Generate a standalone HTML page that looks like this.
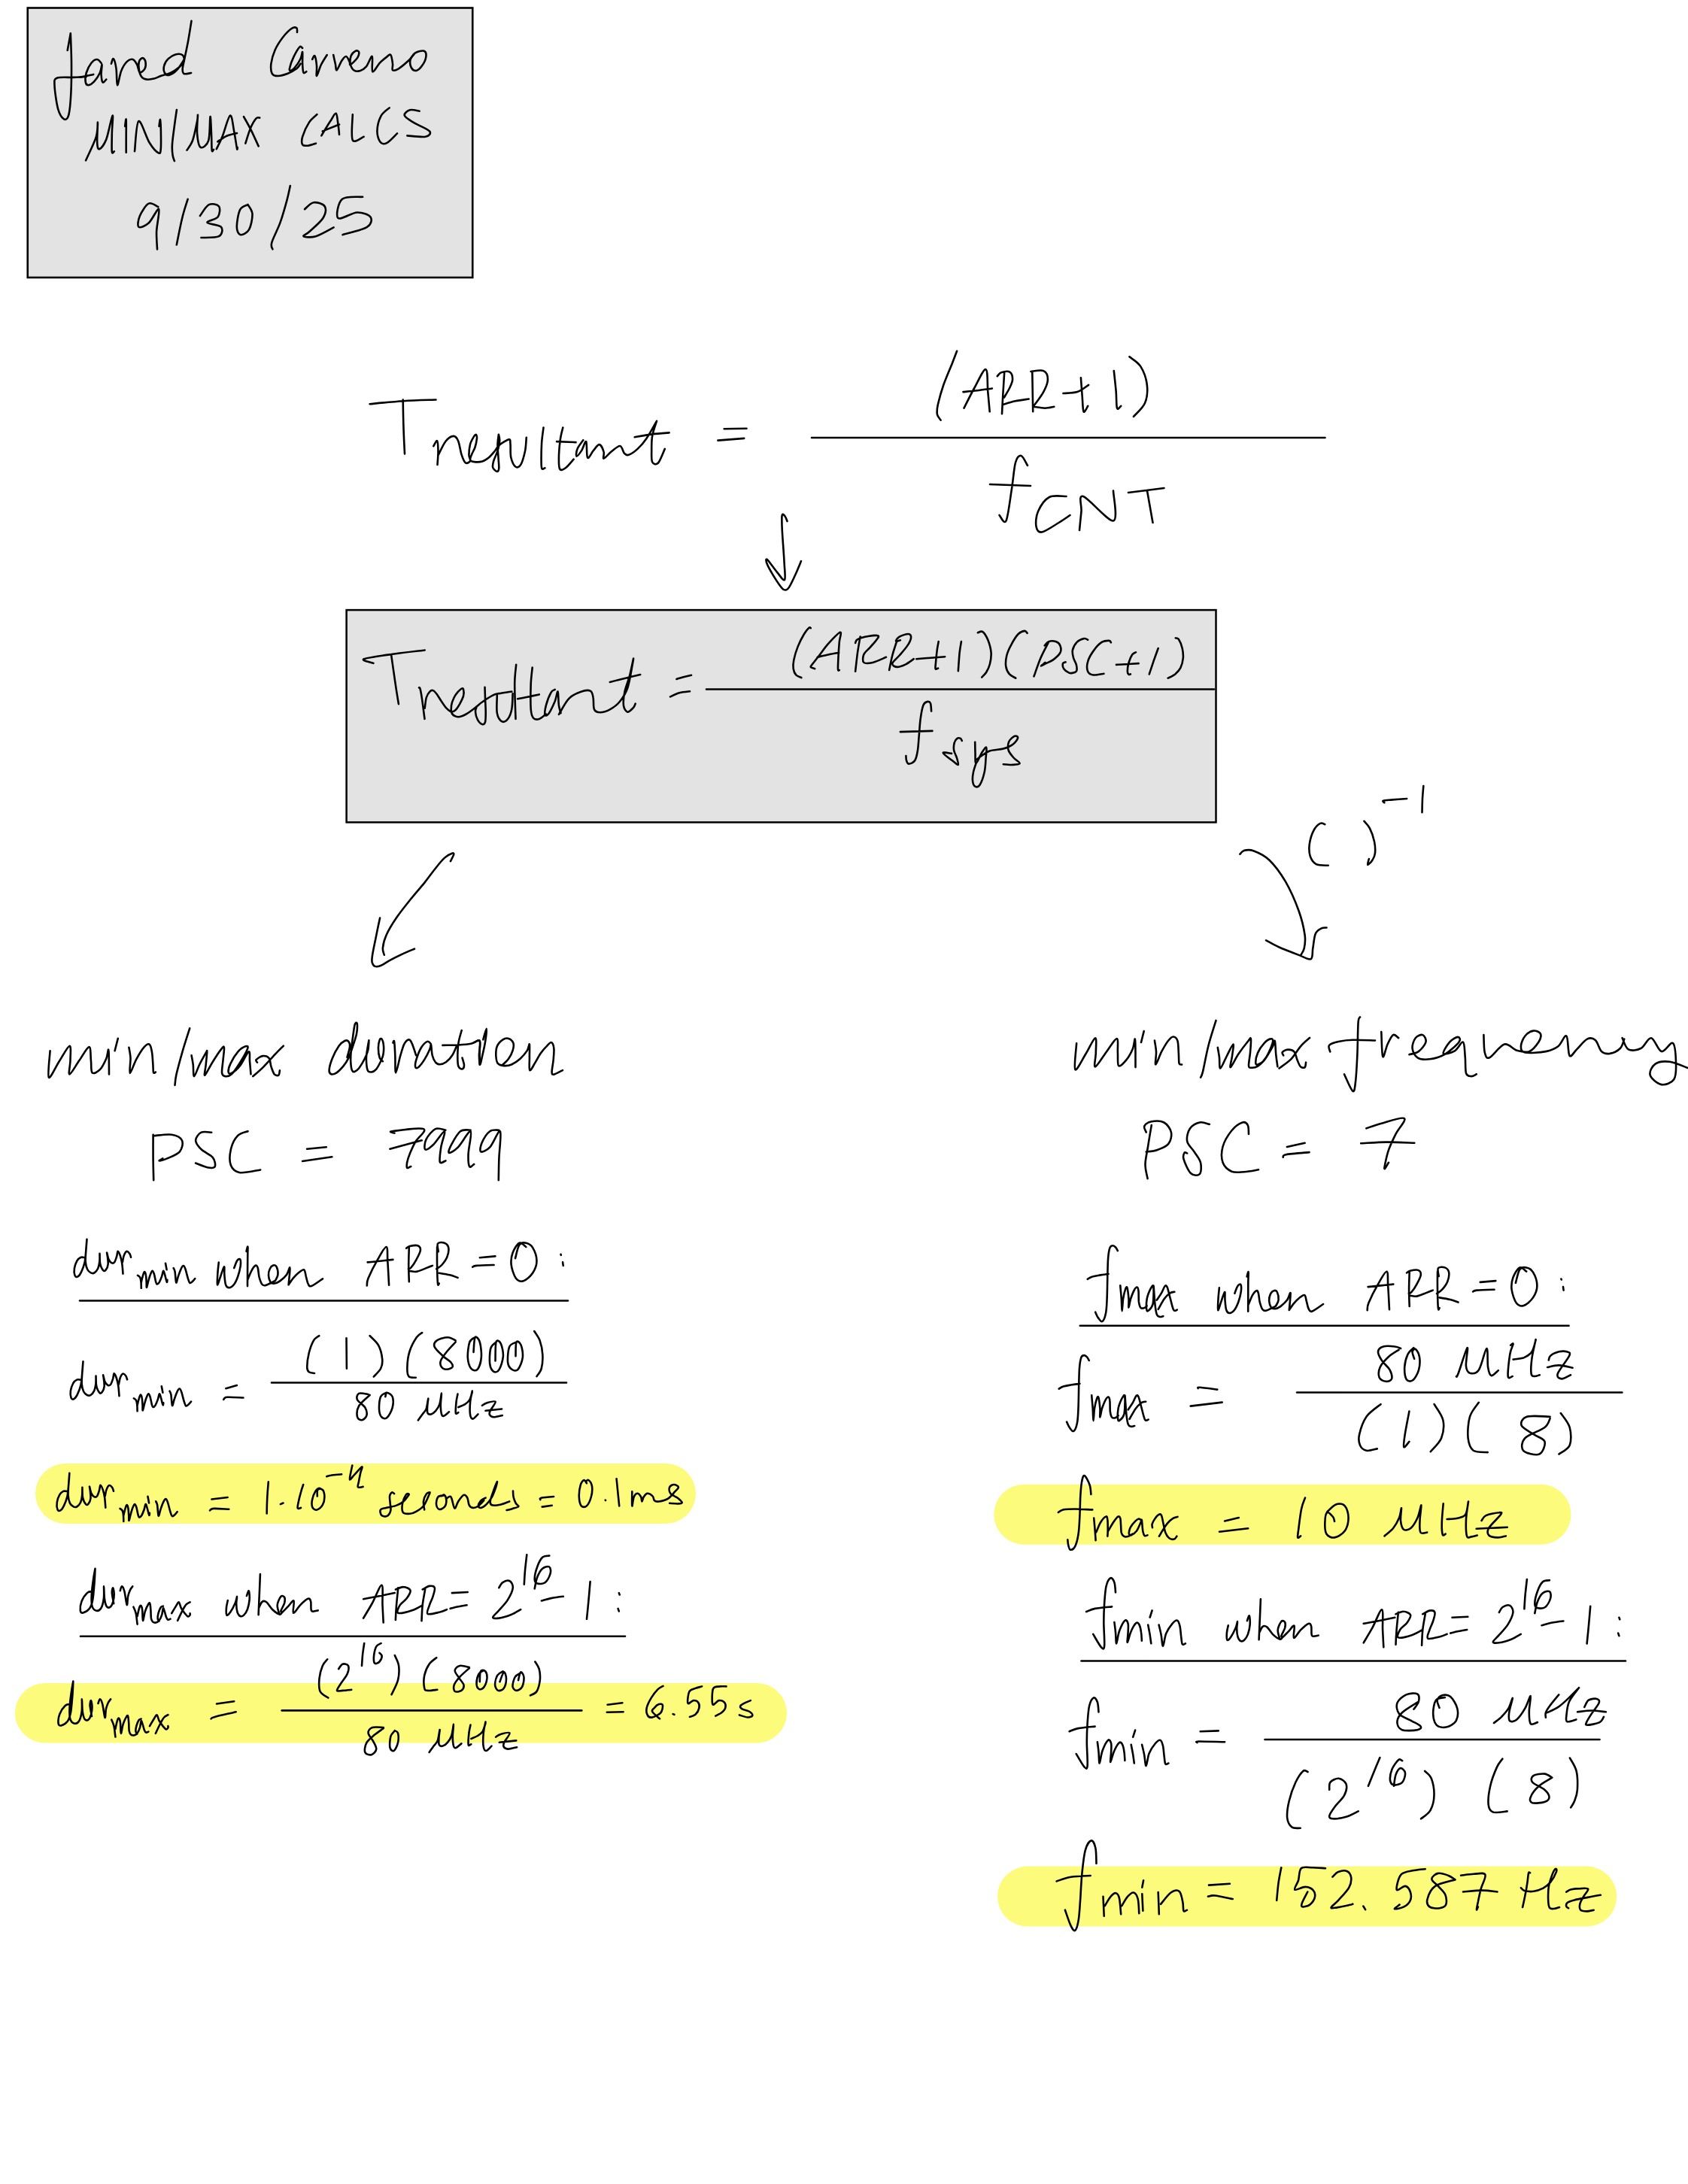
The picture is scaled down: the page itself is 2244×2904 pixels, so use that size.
<!DOCTYPE html>
<html><head><meta charset="utf-8"><title>Notes</title>
<style>
html,body{margin:0;padding:0;background:#fff;}
body{width:2244px;height:2904px;overflow:hidden;font-family:"Liberation Sans",sans-serif;}
svg{display:block;}
.ink path,.ink line,.ink polyline{fill:none;stroke:#000;stroke-width:2.6;stroke-linecap:round;stroke-linejoin:round;vector-effect:non-scaling-stroke;}
</style></head>
<body>
<svg width="2244" height="2904" viewBox="0 0 2244 2904">
<rect x="0" y="0" width="2244" height="2904" fill="#ffffff"/>
<!-- boxes -->
<rect x="36.75" y="10.5" width="591.5" height="358.5" fill="#e3e3e3" stroke="#000" stroke-width="2.6"/>
<rect x="460.6" y="811.1" width="1155.9" height="282.3" fill="#e3e3e3" stroke="#000" stroke-width="2.5"/>
<!-- highlights -->
<g fill="#fdfb7c">
<rect x="47" y="1946" width="878" height="80" rx="40" ry="40"/>
<rect x="20" y="2238" width="1026" height="79.5" rx="39.75" ry="39.75"/>
<rect x="1321.3" y="1973.7" width="767.2" height="80" rx="40" ry="40"/>
<rect x="1326" y="2481.6" width="823.2" height="80" rx="40" ry="40"/>
</g>
<g class="ink" id="lines">
<line x1="1079" y1="582" x2="1761.5" y2="582"/>
<line x1="939" y1="916.5" x2="1614" y2="916.5"/>
<line x1="106" y1="1729.5" x2="755" y2="1729.5"/>
<line x1="361" y1="1838.5" x2="753" y2="1838.5"/>
<line x1="107" y1="2175.8" x2="831" y2="2175.8"/>
<line x1="374.7" y1="2274.4" x2="773.3" y2="2274.4"/>
<line x1="1435.8" y1="1762.8" x2="2085.6" y2="1762.8"/>
<line x1="1724.1" y1="1851.5" x2="2156.4" y2="1851.5"/>
<line x1="1437.5" y1="2208.5" x2="2161" y2="2208.5"/>
<line x1="1681.5" y1="2313" x2="2126.5" y2="2313"/>
</g>
<g class="ink" id="hand">
<path d="M89.7,66.9L93.8,44.4 M93.8,44.4C94.0,50.8 94.9,69.4 95.0,82.6C95.1,95.7 95.0,111.5 94.4,123.2C93.8,135.0 92.8,147.1 91.3,152.9C89.7,158.8 87.4,159.6 85.0,158.3C82.7,157.0 79.3,152.5 77.2,145.1C75.1,137.7 72.8,120.7 72.5,113.8C72.3,107.0 71.5,105.7 75.6,103.8C79.8,102.0 91.0,103.2 97.5,102.9C104.1,102.6 111.9,102.1 114.7,102.0"/><!--jared-->
<path d="M106.2,102.7C107.8,102.4 112.7,101.5 115.7,100.8C118.7,100.2 122.8,99.2 124.2,98.9 M134.6,83.8C133.7,83.0 131.2,79.0 129.0,79.0C126.7,79.0 123.7,80.8 121.4,83.8C119.0,86.8 116.0,92.8 114.7,97.0C113.5,101.3 113.3,106.7 113.8,109.4C114.3,112.0 115.7,113.3 117.6,113.2C119.5,113.0 122.6,111.1 125.2,108.4C127.7,105.7 131.0,100.8 132.7,97.0C134.5,93.2 135.3,85.3 135.6,85.7C135.9,86.0 134.5,95.0 134.6,98.9C134.8,102.9 135.4,108.3 136.5,109.4C137.6,110.5 140.5,106.2 141.3,105.6 M147.9,84.7C148.4,83.6 149.7,77.0 150.8,78.1C151.9,79.2 153.7,85.5 154.5,91.4C155.4,97.2 154.9,112.7 156.0,113.2C157.1,113.6 159.1,99.4 161.2,94.2C163.3,89.0 166.2,84.4 168.8,81.9C171.3,79.3 174.1,78.4 176.4,79.0C178.6,79.7 180.5,82.8 182.0,85.7C183.6,88.5 184.1,95.1 185.8,96.1C187.6,97.0 191.2,93.7 192.5,91.4C193.7,89.0 193.9,84.2 193.4,81.9C192.9,79.5 191.0,77.1 189.6,77.1C188.2,77.1 185.7,79.2 184.9,81.9C184.1,84.6 184.2,89.8 184.9,93.2C185.5,96.7 186.9,100.7 188.7,102.7C190.4,104.8 192.6,105.3 195.3,105.6C198.0,105.9 201.6,105.4 204.8,104.6C207.9,103.8 210.6,102.1 214.3,100.8C217.9,99.6 222.6,98.9 226.6,97.0C230.5,95.1 235.0,92.0 238.0,89.5C241.0,86.9 243.8,84.6 244.6,81.9C245.4,79.2 244.6,74.9 242.7,73.3C240.8,71.8 236.4,71.6 233.2,72.4C230.1,73.2 226.3,75.6 223.7,78.1C221.2,80.6 218.8,84.4 218.1,87.6C217.3,90.7 217.9,95.0 219.0,97.0C220.1,99.1 222.0,100.5 224.7,99.9C227.4,99.2 231.6,96.9 235.1,93.2C238.6,89.6 243.8,80.6 245.5,78.1 M254.5,27.8C253.8,32.1 251.8,45.2 250.3,53.4C248.8,61.7 246.8,70.8 245.5,77.1C244.3,83.5 242.9,87.9 242.7,91.4C242.5,94.8 242.7,97.0 244.6,98.0C246.5,98.9 252.5,97.2 254.1,97.0"/><!--ared-->
<path d="M395.0,43.0C394.9,42.1 395.5,38.0 394.3,37.2C393.1,36.3 390.8,35.8 387.8,37.8C384.8,39.9 379.8,44.8 376.1,49.5C372.4,54.3 368.2,60.6 365.6,66.5C363.0,72.4 361.1,79.5 360.4,84.7C359.8,90.0 360.2,95.1 361.7,97.8C363.2,100.5 366.1,101.0 369.5,101.0C373.0,101.0 378.5,99.4 382.6,97.8C386.7,96.1 391.5,93.4 394.3,91.3C397.1,89.1 398.7,85.8 399.5,84.7 M402.1,63.9C401.5,63.7 400.2,60.6 398.2,62.6C396.3,64.5 392.6,71.1 390.4,75.6C388.2,80.2 385.9,86.9 385.2,90.0C384.4,93.0 384.8,93.9 385.8,93.9C386.9,93.9 389.4,92.6 391.7,90.0C394.0,87.3 397.8,81.7 399.5,78.2C401.3,74.7 401.7,68.0 402.1,69.1C402.6,70.2 401.9,80.2 402.1,84.7C402.3,89.3 402.6,94.7 403.4,96.5C404.3,98.2 406.7,95.4 407.3,95.2 M415.2,78.9C415.7,78.1 417.4,72.9 418.4,74.3C419.4,75.7 420.6,82.9 421.0,87.3C421.5,91.8 420.1,101.2 421.0,101.0C422.0,100.8 424.6,90.7 426.9,86.0C429.2,81.4 433.4,75.2 434.7,73.0 M443.2,73.0C443.6,75.0 445.0,81.4 445.8,84.7C446.6,88.1 446.3,93.9 447.7,93.2C449.2,92.6 452.2,83.9 454.3,80.8C456.3,77.8 458.4,74.7 460.1,75.0C461.9,75.2 463.7,80.3 464.7,82.1C465.7,84.0 464.3,86.9 466.0,86.0C467.7,85.2 473.3,79.7 475.1,76.9C477.0,74.1 477.5,70.6 477.1,69.1C476.6,67.6 474.2,66.9 472.5,67.8C470.8,68.7 467.7,71.3 466.6,74.3C465.6,77.4 465.2,82.8 466.0,86.0C466.8,89.3 469.0,92.6 471.2,93.9C473.4,95.2 476.4,94.7 479.0,93.9C481.6,93.0 484.2,91.8 486.8,88.6C489.5,85.5 493.3,73.9 494.7,75.0C496.1,76.0 493.6,93.8 495.3,95.2C497.1,96.6 501.9,86.7 505.1,83.4C508.2,80.2 511.8,77.4 514.2,75.6C516.6,73.9 518.1,71.5 519.4,73.0C520.7,74.5 521.6,81.4 522.0,84.7C522.5,88.1 520.7,92.1 522.0,93.2C523.3,94.3 526.2,93.5 529.9,91.3C533.5,89.0 540.5,83.0 544.2,79.5C547.9,76.0 548.7,72.4 552.0,70.4C555.3,68.4 561.3,66.9 563.7,67.8C566.1,68.7 566.8,72.4 566.3,75.6C565.9,78.9 563.3,84.3 561.1,87.3C559.0,90.4 555.7,93.4 553.3,93.9C550.9,94.3 548.1,92.3 546.8,90.0C545.5,87.6 544.8,82.6 545.5,79.5C546.1,76.5 549.8,73.0 550.7,71.7"/><!--carreno-->
<path d="M114.1,213.3C116.3,208.1 125.0,190.7 127.7,182.3C130.3,173.9 129.7,161.4 129.9,162.7C130.2,163.9 128.8,183.9 129.2,189.8C129.5,195.8 130.2,198.9 132.2,198.2C134.2,197.4 138.4,192.7 141.3,185.3C144.1,177.9 148.3,154.9 149.6,153.6C150.8,152.3 148.9,169.7 148.8,177.8C148.7,185.8 148.3,198.0 148.8,201.9C149.3,205.8 151.3,201.3 151.8,201.2 M166.2,167.9C166.4,166.4 167.4,156.0 167.7,158.9C167.9,161.8 167.7,178.0 167.7,185.3C167.7,192.6 167.7,199.8 167.7,202.7 M179.0,201.2C179.9,194.5 181.0,163.0 184.3,161.1C187.6,159.3 194.2,182.8 198.7,189.8C203.1,196.9 208.2,202.2 210.7,203.4C213.3,204.7 213.3,202.9 213.8,197.4C214.3,191.9 213.9,176.6 213.8,170.2C213.6,163.8 213.4,159.3 213.0,158.9C212.6,158.5 211.7,166.4 211.5,167.9 M234.9,146.0C234.4,149.6 232.9,159.4 231.9,167.2C230.9,175.0 229.2,186.3 228.9,192.9C228.5,199.4 229.1,202.9 229.6,206.5C230.1,210.0 231.5,212.8 231.9,214.0 M248.5,199.7C249.8,197.5 253.8,193.2 256.1,186.8C258.3,180.4 261.0,166.7 262.1,161.1C263.2,155.6 262.9,150.8 262.9,153.6C262.9,156.4 261.5,170.7 262.1,177.8C262.7,184.8 264.1,194.4 266.6,195.9C269.1,197.4 275.1,193.6 277.2,186.8C279.3,180.0 278.8,156.6 279.5,155.1C280.1,153.6 280.6,170.3 281.0,177.8C281.4,185.2 281.2,196.1 281.7,199.7C282.2,203.2 283.6,199.0 284.0,198.9 M287.8,198.2C289.0,195.5 292.3,189.7 295.3,182.3C298.4,174.9 303.3,154.9 305.9,153.6C308.5,152.3 309.7,167.4 311.2,174.7C312.7,182.0 314.2,193.9 315.0,197.4C315.7,200.9 315.6,196.1 315.7,195.9 M289.3,188.3C291.3,187.1 297.1,182.7 301.4,180.8C305.7,178.9 312.7,177.6 315.0,177.0 M324.0,155.1C325.5,157.9 329.8,165.2 333.1,171.7C336.4,178.3 341.9,190.6 343.7,194.4 M345.2,156.6C344.4,156.7 342.7,155.1 340.6,157.4C338.6,159.6 335.5,164.7 333.1,170.2C330.7,175.8 327.4,187.2 326.3,190.6"/><!--minmax_top-->
<path d="M421.4,152.2C419.7,153.9 414.2,157.6 411.0,162.6C407.8,167.5 403.6,176.9 402.1,181.8C400.7,186.8 400.9,190.2 402.1,192.2C403.4,194.2 406.6,193.9 409.5,193.7C412.5,193.4 418.2,191.2 419.9,190.7 M427.3,180.4C429.3,177.1 435.9,166.0 439.2,161.1C442.4,156.2 444.8,150.0 446.6,150.7C448.3,151.5 448.8,160.9 449.5,165.5C450.3,170.2 450.8,176.7 451.0,178.9 M428.8,174.4L451.0,165.5 M468.8,152.2C468.8,157.9 466.3,181.3 468.8,186.3C471.2,191.2 481.1,182.6 483.6,181.8 M517.7,143.3C515.8,145.2 509.1,149.1 506.4,154.3C503.7,159.5 501.5,168.6 501.4,174.4C501.3,180.3 503.6,186.7 505.8,189.2C508.0,191.8 511.0,191.8 514.7,189.8C518.4,187.9 525.8,179.5 528.0,177.4 M557.6,147.8C555.5,147.5 548.2,145.3 544.9,146.3C541.6,147.3 536.9,150.9 537.8,153.7C538.7,156.5 544.7,159.7 550.2,163.2C555.8,166.6 568.4,171.3 571.0,174.4C573.5,177.5 570.6,180.8 565.6,181.8C560.7,182.8 545.4,180.6 541.4,180.4 M210.2,275.1C208.1,274.4 201.8,268.7 197.7,270.7C193.7,272.7 188.1,281.8 185.9,287.0C183.7,292.2 182.4,300.2 184.4,301.8C186.4,303.4 193.3,300.4 197.7,296.5C202.2,292.5 209.4,276.2 211.1,278.1C212.8,280.0 208.5,298.8 208.1,307.7C207.8,316.6 208.9,327.5 209.0,331.4 M249.6,264.8C248.4,269.0 244.6,279.8 242.2,290.0C239.7,300.1 236.0,319.6 234.8,325.5 M265.9,287.0C267.9,284.5 273.5,274.3 277.7,272.2C281.9,270.1 289.1,271.8 291.1,274.5C293.0,277.3 292.2,284.9 289.6,288.5C287.0,292.0 274.6,293.7 275.4,295.9C276.1,298.1 291.4,298.7 294.0,301.8C296.6,304.9 295.5,311.9 291.1,314.2C286.6,316.6 271.3,315.7 267.4,316.0 M329.6,272.2C327.8,273.3 321.7,273.8 319.2,278.7C316.7,283.6 314.7,296.2 314.8,301.8C314.8,307.4 317.1,311.6 319.8,312.2C322.5,312.8 328.4,309.9 331.0,305.4C333.7,300.8 335.7,290.2 335.5,284.6C335.2,279.1 330.5,274.3 329.6,272.2 M385.8,247.0C385.1,250.2 383.6,258.1 381.4,266.3C379.2,274.4 375.9,286.5 372.5,295.9C369.2,305.3 362.9,316.6 361.3,322.5C359.6,328.5 362.2,329.9 362.4,331.4 M405.1,278.1C407.1,276.6 412.5,269.8 416.9,269.2C421.4,268.6 429.7,271.1 431.8,274.5C433.8,278.0 432.7,284.4 429.4,290.0C426.0,295.5 415.9,303.7 411.6,307.7C407.3,311.8 402.2,313.2 403.6,314.2C405.0,315.3 413.2,316.2 419.9,314.2C426.6,312.3 439.7,304.4 443.6,302.4 M482.1,261.8C477.6,262.3 460.3,260.1 454.9,264.8C449.4,269.5 446.2,287.0 449.5,290.0C452.8,292.9 467.5,282.8 474.7,282.5C481.9,282.3 490.3,285.3 492.5,288.5C494.7,291.7 494.2,297.9 488.0,301.8C481.9,305.8 460.9,310.4 455.5,312.2"/><!--minmax-->
<path d="M1272.1,466.8C1271.0,469.7 1268.5,476.2 1265.6,483.7C1262.6,491.2 1257.5,502.7 1254.3,511.8C1251.2,520.8 1248.3,531.4 1246.8,538.0C1245.4,544.5 1245.3,547.7 1245.9,551.1C1246.5,554.5 1249.8,557.3 1250.6,558.6 M1281.5,542.7C1283.8,538.1 1290.7,524.1 1295.5,515.5C1300.4,506.9 1307.5,490.2 1310.5,491.2C1313.5,492.1 1312.4,511.8 1313.3,521.1C1314.2,530.5 1315.3,543.0 1315.7,547.3 M1280.5,521.1C1283.7,520.8 1292.9,520.0 1299.3,519.3C1305.7,518.5 1315.6,516.9 1318.9,516.5 M1325.8,500.2C1326.7,499.4 1328.3,496.2 1331.1,495.3C1333.8,494.4 1339.8,493.1 1342.3,494.6C1344.8,496.1 1346.1,500.8 1346.1,504.3C1346.1,507.8 1344.2,511.5 1342.3,515.5C1340.4,519.6 1336.1,526.4 1334.8,528.6 M1335.2,494.9C1334.9,499.9 1333.9,515.7 1333.3,524.9C1332.8,534.1 1332.2,545.9 1332.0,550.1 M1333.0,538.0C1335.8,537.2 1344.0,534.6 1349.8,533.3C1355.6,532.1 1364.6,531.0 1367.6,530.5 M1370.4,494.0C1373.2,493.8 1383.5,491.3 1387.2,493.1C1391.0,494.8 1392.9,499.6 1392.9,504.3C1392.9,509.0 1390.4,515.2 1387.2,521.1C1384.1,527.1 1376.3,536.7 1374.1,539.9 M1372.3,494.9L1373.2,547.3 M1374.1,540.8C1376.6,541.1 1384.6,542.7 1389.1,542.7C1393.6,542.7 1399.3,541.1 1401.3,540.8 M1413.5,523.0C1416.6,522.7 1426.6,523.0 1432.2,521.1C1437.8,519.3 1444.7,513.3 1447.1,511.8 M1436.9,502.4C1437.2,506.5 1438.1,519.3 1438.7,526.8C1439.3,534.2 1439.3,545.2 1440.6,547.3C1441.8,549.5 1445.3,541.1 1446.2,539.9 M1480.8,493.1C1481.3,497.7 1483.0,512.9 1483.7,521.1C1484.3,529.4 1483.9,539.5 1485.0,542.7C1486.1,545.8 1489.3,540.3 1490.2,539.9 M1501.4,474.3C1503.9,476.5 1512.5,481.2 1516.4,487.4C1520.3,493.7 1523.9,503.7 1524.8,511.8C1525.8,519.9 1525.0,529.1 1522.0,536.1C1519.1,543.1 1509.5,550.9 1507.0,553.9"/><!--arr1-->
<path d="M1366.0,619.0C1364.6,616.8 1360.2,606.7 1357.5,606.0C1354.8,605.3 1352.1,607.7 1350.0,615.0C1347.9,622.3 1347.1,637.1 1345.0,650.0C1342.9,662.9 1340.2,686.7 1337.5,692.5C1334.8,698.3 1330.0,686.2 1328.5,685.0 M1316.0,644.0L1370.0,646.0 M1417.5,660.0C1413.8,660.2 1401.2,657.7 1395.0,661.0C1388.8,664.3 1382.9,673.5 1380.0,680.0C1377.1,686.5 1376.7,695.4 1377.5,700.0C1378.3,704.6 1380.0,708.3 1385.0,707.5C1390.0,706.7 1401.2,698.8 1407.5,695.0C1413.8,691.2 1420.0,686.7 1422.5,685.0 M1435.0,705.0C1435.4,700.8 1436.7,687.5 1437.5,680.0C1438.3,672.5 1432.9,657.9 1440.0,660.0C1447.1,662.1 1473.3,693.8 1480.0,692.5C1486.7,691.2 1480.0,659.2 1480.0,652.5 M1500.0,655.0L1547.5,649.0 M1525.0,652.5L1532.5,695.0"/><!--fcnt-->
<path d="M491.6,537.2C499.0,536.5 521.7,534.1 536.4,533.2C551.0,532.2 572.3,531.8 579.5,531.5 M535.7,531.5C535.8,537.3 536.0,554.4 536.4,566.4C536.7,578.3 537.7,597.3 538.0,603.5 M962.7,570.3L992.5,569.7 M954.4,585.6L989.2,582.9"/><!--tres_T-->
<path d="M576.3,593.2C577.1,592.0 580.1,585.1 581.1,586.2C582.2,587.2 582.4,594.2 582.5,599.5C582.6,604.8 581.7,614.9 581.5,618.0 M582.9,604.7C584.5,601.8 589.0,591.1 592.3,587.0C595.6,582.8 600.0,580.0 602.8,579.9C605.6,579.8 607.3,582.0 609.1,586.2C610.9,590.3 612.0,599.9 613.6,604.7C615.2,609.6 617.0,614.2 618.9,615.5C620.8,616.8 624.4,614.5 625.1,612.8C625.9,611.0 623.4,608.5 623.4,604.7C623.4,601.0 624.0,594.6 625.1,590.5C626.3,586.3 629.1,582.0 630.4,579.9C631.7,577.9 632.6,577.6 633.1,578.2C633.7,578.7 634.2,580.6 633.9,583.4C633.6,586.2 632.6,591.4 631.4,595.0C630.2,598.5 627.9,601.9 626.9,604.7C625.8,607.5 624.5,610.2 625.1,611.8C625.7,613.3 627.7,613.8 630.4,614.1C633.1,614.4 637.9,614.5 641.2,613.5C644.4,612.6 647.2,610.6 650.0,608.3C652.8,605.9 655.8,602.1 658.0,599.5C660.2,596.8 660.2,594.7 663.3,592.2C666.4,589.7 674.0,584.7 676.5,584.4C679.1,584.1 678.0,586.5 678.5,590.5C679.0,594.4 678.1,603.2 679.3,608.3C680.5,613.3 683.3,619.3 685.5,620.8C687.8,622.3 690.5,620.8 692.6,617.3C694.7,613.7 696.8,605.4 698.1,599.5C699.3,593.5 699.5,584.6 699.8,581.7 M662.9,577.8C663.1,579.2 664.5,582.6 664.2,586.2C664.0,589.8 662.8,595.0 661.5,599.5C660.2,603.9 657.3,609.1 656.2,612.8C655.2,616.4 654.5,619.2 655.2,621.6C656.0,623.9 659.4,626.9 660.7,627.0C662.0,627.2 663.0,625.7 663.3,622.5C663.5,619.4 662.8,613.6 662.5,608.3C662.2,602.9 661.4,595.6 661.5,590.5C661.6,585.4 662.6,579.9 662.9,577.8 M722.5,568.6C722.1,572.0 720.6,581.4 720.1,589.1C719.7,596.8 719.5,608.8 719.6,614.5C719.6,620.2 719.7,622.0 720.5,623.3C721.4,624.6 723.8,622.5 724.4,622.3 M748.3,568.6C747.7,571.0 745.9,577.2 745.0,583.2C744.1,589.3 743.2,598.1 743.0,604.7C742.9,611.4 742.5,620.4 744.0,623.3C745.5,626.2 748.7,624.5 751.8,622.3C754.9,620.2 760.8,612.6 762.6,610.6 M740.1,587.1L765.5,588.1 M775.3,585.2C774.0,587.1 768.9,593.3 767.5,596.9C766.0,600.5 765.5,606.4 766.5,606.7C767.5,607.0 771.2,602.1 773.3,598.9C775.4,595.6 777.9,585.5 779.2,587.1C780.5,588.8 779.5,606.7 781.1,608.7C782.8,610.6 786.4,601.8 789.0,598.9C791.6,595.9 794.5,590.7 796.8,591.1C799.1,591.4 801.7,597.7 802.6,600.8C803.6,603.9 801.0,609.6 802.6,609.6C804.3,609.6 808.8,603.6 812.4,600.8C816.0,598.1 821.2,592.7 824.2,593.0C827.1,593.3 828.1,600.8 830.0,602.8C832.0,604.7 833.0,605.7 835.9,604.7C838.8,603.8 843.7,600.5 847.6,596.9C851.5,593.3 855.1,589.4 859.3,583.2C863.6,577.0 870.7,563.7 873.0,559.8 M873.0,559.8C872.1,563.0 868.3,572.8 867.2,579.3C866.0,585.8 866.2,593.0 866.2,598.9C866.2,604.7 865.7,611.7 867.2,614.5C868.6,617.3 872.2,618.4 875.0,615.5C877.8,612.6 882.3,600.0 883.8,596.9 M843.7,581.3C847.6,580.6 859.5,578.3 867.2,577.4C874.8,576.4 885.9,575.7 889.6,575.4"/><!--tres_word-->
<path d="M496.5,881.8C494.4,880.8 479.0,878.3 483.9,876.2C488.8,874.1 512.2,871.2 525.7,869.2C539.1,867.3 558.2,865.3 564.7,864.5 M520.1,870.6C521.0,877.1 524.1,898.7 525.7,909.6C527.3,920.5 529.2,931.7 529.9,936.1"/><!--box2_T-->
<path d="M557.0,914.4C557.3,914.6 557.8,913.2 558.5,915.6C559.1,918.0 559.9,921.9 560.9,928.6C561.9,935.4 563.9,951.5 564.5,956.0 M564.7,941.7C565.1,939.3 565.7,931.2 566.8,927.5C568.0,923.7 570.1,920.8 571.6,919.3C573.1,917.7 574.3,917.5 575.8,918.1C577.3,918.7 578.6,920.3 580.5,922.8C582.4,925.2 584.8,929.7 587.0,932.8C589.2,936.0 591.4,939.4 593.5,941.7C595.7,944.0 598.1,946.1 600.0,946.5C602.0,946.9 603.5,945.9 605.4,944.2C607.3,942.4 609.5,939.0 611.3,935.8C613.0,932.6 615.3,928.3 616.1,925.1C616.9,922.0 616.5,918.5 616.1,916.9C615.7,915.3 615.0,915.0 613.7,915.6C612.4,916.2 610.1,918.5 608.4,920.4C606.7,922.4 605.0,924.5 603.6,927.5C602.2,930.4 600.5,934.7 600.0,938.2C599.5,941.6 599.7,945.8 600.6,948.2C601.5,950.6 603.6,951.6 605.4,952.4C607.2,953.2 609.0,953.4 611.3,953.0C613.5,952.6 616.5,951.3 618.9,950.0C621.4,948.7 623.6,947.1 626.1,945.3C628.6,943.5 631.3,941.3 633.8,939.3C636.3,937.4 637.4,935.9 641.0,933.5C644.5,931.0 651.3,926.5 655.0,924.6C658.8,922.7 659.2,923.0 663.4,922.1C667.6,921.3 677.5,920.0 680.3,919.5 M633.8,939.3C633.5,940.5 631.8,943.5 632.0,946.5C632.2,949.5 633.5,954.4 635.0,957.2C636.5,959.9 639.3,962.6 641.0,963.1C642.6,963.5 644.2,962.8 645.0,960.1C645.8,957.3 645.7,951.7 645.7,946.5C645.7,941.3 645.2,934.1 645.0,928.6C644.8,923.2 644.6,916.4 644.5,913.9 M660.8,924.7C660.8,928.6 659.7,942.4 660.8,948.2C661.9,954.0 664.9,958.0 667.3,959.3C669.7,960.6 672.9,958.7 675.1,956.0C677.3,953.3 679.2,948.6 680.3,943.0C681.4,937.3 681.4,925.6 681.6,922.1 M686.2,883.7C685.9,887.9 684.3,897.0 684.2,909.1C684.1,921.2 685.3,948.2 685.5,956.0 M707.7,887.6C707.4,891.2 706.1,899.9 705.7,909.1C705.4,918.3 705.2,935.4 705.7,943.0C706.3,950.6 707.2,952.5 709.0,954.7C710.8,956.9 714.0,956.9 716.8,956.0C719.6,955.1 724.4,950.6 725.9,949.5 M688.1,929.3C690.3,928.9 696.4,927.7 701.2,926.7C706.0,925.7 714.2,924.0 716.8,923.4 M737.7,916.9C736.8,917.6 734.4,917.4 732.5,920.8C730.5,924.3 727.2,932.8 725.9,937.8C724.6,942.8 724.0,949.1 724.6,950.8C725.3,952.5 727.7,951.2 729.9,948.2C732.0,945.2 735.7,937.3 737.7,932.6C739.6,927.8 740.7,918.7 741.6,919.5C742.4,920.4 742.2,933.0 742.9,937.8C743.5,942.5 745.1,946.5 745.5,948.2"/><!--box2_res1-->
<path d="M743.0,949.9C745.2,946.5 751.3,934.1 756.1,929.1C760.8,924.1 766.9,921.7 771.7,920.0C776.5,918.2 781.9,917.3 784.7,918.6C787.6,920.0 787.8,923.6 788.6,927.8C789.5,931.9 788.4,940.2 790.0,943.4C791.5,946.7 794.3,947.3 797.8,947.3C801.2,947.3 806.5,945.8 810.8,943.4C815.1,941.0 819.9,937.8 823.8,933.0C827.7,928.2 831.4,923.0 834.3,914.7C837.1,906.5 839.5,890.0 840.8,883.5C842.1,876.9 841.9,876.9 842.1,875.6 M842.1,875.6C841.2,879.5 838.8,891.7 836.9,899.1C834.9,906.5 831.7,913.4 830.4,920.0C829.0,926.5 828.4,933.7 829.0,938.2C829.7,942.6 832.1,946.2 834.3,946.7C836.4,947.1 840.3,942.6 842.1,940.8C843.8,939.0 844.3,936.5 844.7,935.6 M810.8,906.9C814.3,906.0 824.9,903.3 831.7,901.7C838.4,900.1 847.9,897.9 851.2,897.1 M899.4,903.0C900.1,902.8 900.1,902.6 903.3,901.7C906.6,900.8 916.4,898.4 919.0,897.8 M891.0,926.5C893.0,925.6 899.0,922.4 903.3,921.3C907.7,920.1 914.7,919.6 917.0,919.3"/><!--box2_res2-->
<path d="M1046.5,693.1C1046.1,692.1 1045.0,688.6 1044.0,687.1C1043.0,685.5 1041.2,683.7 1040.5,683.9C1039.7,684.0 1039.5,684.2 1039.4,687.8C1039.3,691.4 1039.2,695.5 1039.8,705.5C1040.3,715.6 1042.1,737.3 1042.6,748.2C1043.1,759.1 1044.6,768.9 1043.0,770.9C1041.3,773.0 1036.5,764.8 1032.7,760.3C1028.8,755.8 1022.0,745.6 1019.9,743.9C1017.7,742.3 1018.2,746.3 1019.9,750.3C1021.5,754.4 1026.5,762.8 1029.8,768.1C1033.1,773.4 1037.3,779.6 1039.8,782.3C1042.2,785.0 1043.2,784.7 1044.7,784.5C1046.3,784.2 1046.9,784.3 1049.0,780.9C1051.1,777.5 1054.9,769.6 1057.5,763.8C1060.2,758.0 1063.8,749.0 1065.0,746.1"/><!--darrow-->
<path d="M1077.8,835.3C1077.4,835.2 1077.0,833.5 1075.5,834.7C1074.0,836.0 1071.4,838.9 1069.0,843.0C1066.5,847.2 1062.9,853.9 1060.7,859.6C1058.4,865.3 1056.3,872.5 1055.3,877.4C1054.3,882.3 1054.2,885.9 1054.7,889.2C1055.2,892.6 1056.5,895.6 1058.3,897.5C1060.1,899.5 1064.2,900.5 1065.4,901.1 M1083.2,889.2C1082.3,888.8 1078.2,888.1 1077.8,886.9C1077.4,885.7 1078.9,884.7 1080.8,882.1C1082.7,879.6 1085.7,875.8 1089.1,871.5C1092.5,867.1 1096.3,861.2 1100.9,856.1C1105.6,850.9 1114.5,841.1 1116.9,840.7C1119.4,840.3 1116.2,848.6 1115.8,853.7C1115.4,858.8 1114.9,865.4 1114.6,871.5C1114.3,877.5 1113.8,886.6 1114.0,889.8C1114.2,893.1 1115.5,890.8 1115.8,891.0 M1086.7,873.8C1089.3,873.2 1097.4,871.3 1102.1,870.3C1106.9,869.3 1113.0,868.3 1115.2,867.9 M1143.6,846.6C1143.0,850.1 1141.1,860.2 1140.0,867.9C1139.0,875.6 1137.6,888.6 1137.1,892.8 M1137.1,854.9C1137.6,854.1 1137.2,851.6 1140.0,850.1C1142.9,848.7 1149.7,846.8 1154.3,846.0C1158.8,845.2 1165.5,844.5 1167.3,845.4C1169.1,846.3 1166.7,848.8 1164.9,851.3C1163.2,853.9 1159.4,857.6 1156.6,860.8C1153.9,864.0 1149.7,866.9 1148.3,870.3C1147.0,873.6 1146.4,879.2 1148.3,880.9C1150.3,882.7 1155.3,882.1 1160.2,880.9C1165.1,879.8 1175.0,875.0 1178.0,873.8 M1196.9,851.3C1195.9,851.5 1191.2,853.3 1191.0,852.5C1190.8,851.7 1193.0,848.2 1195.7,846.6C1198.5,845.0 1205.0,842.8 1207.6,843.0C1210.2,843.2 1211.3,845.2 1211.1,847.8C1210.9,850.3 1209.0,854.5 1206.4,858.4C1203.8,862.4 1199.1,867.5 1195.7,871.5C1192.4,875.4 1186.8,879.6 1186.3,882.1C1185.7,884.7 1189.2,886.7 1192.2,886.9C1195.1,887.1 1200.3,885.1 1204.0,883.3C1207.8,881.5 1212.9,877.4 1214.7,876.2 M1192.2,852.5C1191.2,855.7 1187.9,865.1 1186.3,871.5C1184.6,877.9 1182.8,887.8 1182.1,891.0 M1218.2,876.2C1220.8,876.0 1227.3,875.5 1233.6,875.0C1240.0,874.5 1252.4,873.5 1256.2,873.2"/><!--box2_n1-->
<path d="M1247.7,853.1C1247.4,854.8 1246.5,858.7 1245.9,863.2C1245.3,867.6 1244.5,875.4 1244.1,879.8C1243.8,884.1 1243.1,887.8 1243.6,889.2C1244.0,890.7 1246.5,888.7 1247.1,888.6 M1277.9,853.1C1277.5,855.8 1276.2,862.6 1275.5,869.1C1274.9,875.6 1274.1,888.4 1273.8,892.2 M1299.8,841.3C1300.9,841.1 1304.1,838.4 1306.4,840.1C1308.6,841.7 1311.6,846.7 1313.5,851.3C1315.3,856.0 1317.2,862.6 1317.6,867.9C1318.0,873.2 1316.9,879.0 1315.8,883.3C1314.7,887.7 1312.9,891.1 1311.1,894.0C1309.3,896.8 1306.2,899.4 1305.2,900.5 M1365.6,841.8C1365.0,841.4 1364.0,838.7 1362.0,838.9C1360.1,839.1 1356.7,840.0 1353.7,843.0C1350.8,846.1 1346.8,852.5 1344.3,857.3C1341.7,862.0 1339.5,866.7 1338.3,871.5C1337.2,876.2 1336.6,881.5 1337.2,885.7C1337.7,889.8 1339.7,893.7 1341.9,896.4C1344.1,899.0 1348.8,900.8 1350.2,901.7 M1394.0,853.7C1392.3,857.3 1386.6,867.4 1383.4,875.0C1380.1,882.6 1376.0,895.3 1374.5,899.3 M1388.7,858.4C1389.6,857.5 1391.6,854.0 1394.0,853.1C1396.5,852.2 1400.9,852.2 1403.5,853.1C1406.1,854.0 1408.4,856.0 1409.4,858.4C1410.4,860.9 1411.0,864.8 1409.4,867.9C1407.9,871.1 1403.1,875.0 1400.0,877.4C1396.8,879.8 1393.1,880.8 1390.5,882.1C1387.8,883.5 1384.2,885.9 1384.0,885.7C1383.8,885.5 1388.4,881.7 1389.3,880.9"/><!--box2_n2-->
<path d="M1446.1,850.7C1445.3,850.4 1443.7,848.5 1441.3,849.0C1439.0,849.5 1434.4,851.1 1431.8,853.7C1429.3,856.3 1426.7,860.8 1425.9,864.4C1425.1,867.9 1426.3,871.9 1427.1,875.0C1427.9,878.2 1430.0,880.6 1430.7,883.3C1431.4,886.1 1431.8,889.7 1431.3,891.6C1430.7,893.5 1428.8,894.1 1427.1,894.6C1425.4,895.1 1423.3,895.5 1421.2,894.6C1419.0,893.7 1415.6,891.3 1414.2,889.2C1412.8,887.2 1412.6,883.6 1413.0,882.1C1413.4,880.7 1416.0,880.7 1416.6,880.4 M1476.9,854.3C1476.5,853.9 1476.5,852.0 1474.5,851.9C1472.5,851.8 1468.4,851.6 1465.0,853.7C1461.7,855.8 1457.5,860.0 1454.4,864.4C1451.2,868.7 1447.4,875.0 1446.1,879.8C1444.7,884.5 1444.9,889.8 1446.1,892.8C1447.3,895.8 1449.6,897.0 1453.2,897.5C1456.7,898.0 1465.0,896.1 1467.4,895.8 M1484.0,883.9C1486.0,883.8 1490.9,883.6 1495.8,883.3C1500.8,883.0 1510.6,882.3 1513.6,882.1 M1510.0,867.3C1509.3,867.8 1506.9,868.0 1505.3,870.3C1503.7,872.6 1501.7,877.2 1500.6,880.9C1499.5,884.7 1498.8,890.1 1498.8,892.8C1498.8,895.5 1499.9,896.4 1500.6,896.9C1501.3,897.5 1502.5,896.4 1502.9,896.4 M1539.7,862.0C1538.7,864.8 1535.7,872.9 1533.7,878.6C1531.8,884.3 1528.8,893.4 1527.8,896.4 M1562.8,848.4C1563.5,848.7 1565.4,847.9 1566.9,850.1C1568.4,852.4 1570.7,857.8 1571.7,862.0C1572.6,866.1 1573.2,870.7 1572.8,875.0C1572.4,879.4 1571.1,884.5 1569.3,888.1C1567.5,891.6 1564.9,894.1 1562.2,896.4C1559.4,898.6 1554.3,900.8 1552.7,901.7"/><!--box2_n3-->
<path d="M1238.1,945.6C1237.9,943.9 1237.8,937.1 1236.9,935.0C1235.9,932.9 1234.1,932.7 1232.5,933.1C1230.9,933.5 1229.0,933.9 1227.5,937.5C1226.0,941.1 1224.7,948.5 1223.8,955.0C1222.8,961.5 1222.5,969.2 1221.9,976.2C1221.2,983.3 1220.9,991.7 1220.0,997.5C1219.1,1003.3 1218.2,1008.2 1216.2,1011.2C1214.3,1014.3 1210.0,1015.6 1208.1,1015.6C1206.2,1015.6 1205.6,1013.0 1205.0,1011.2C1204.4,1009.5 1204.5,1006.0 1204.4,1005.0 M1196.9,973.1L1239.4,971.9 M1278.8,985.0C1278.4,984.5 1277.9,982.4 1276.9,981.9C1275.8,981.4 1273.9,980.9 1272.5,981.9C1271.1,982.8 1269.5,984.9 1268.8,987.5C1268.0,990.1 1267.6,994.2 1268.1,997.5C1268.6,1000.8 1270.9,1004.3 1271.9,1007.5C1272.8,1010.7 1274.5,1016.0 1273.8,1016.9C1273.0,1017.7 1270.8,1015.1 1267.5,1012.5C1264.2,1009.9 1254.2,1003.0 1253.8,1001.2C1253.3,999.5 1263.1,1001.8 1265.0,1001.9 M1296.2,986.9C1296.3,989.3 1296.3,996.6 1296.5,1001.2C1296.7,1005.9 1296.1,1015.0 1297.5,1015.0C1298.9,1015.0 1302.7,1004.8 1305.0,1001.2C1307.3,997.7 1310.3,992.7 1311.2,993.8C1312.2,994.8 1311.0,1002.1 1310.6,1007.5C1310.2,1012.9 1310.1,1020.2 1308.8,1026.2C1307.4,1032.3 1304.6,1040.5 1302.5,1043.8C1300.4,1047.0 1297.8,1046.5 1296.2,1045.6C1294.7,1044.8 1293.5,1041.8 1293.1,1038.8C1292.7,1035.7 1293.0,1031.5 1293.8,1027.5C1294.5,1023.5 1296.9,1017.1 1297.5,1015.0 M1298.1,1010.0C1300.9,1008.1 1309.1,1001.1 1315.0,998.8C1320.9,996.4 1328.5,997.1 1333.8,995.6C1339.0,994.2 1343.0,992.4 1346.2,990.0C1349.5,987.6 1352.7,983.1 1353.1,981.2C1353.5,979.4 1350.7,977.9 1348.8,978.8C1346.8,979.6 1342.6,983.1 1341.2,986.2C1339.9,989.4 1339.6,994.0 1340.6,997.5C1341.7,1001.0 1345.0,1004.6 1347.5,1007.5C1350.0,1010.4 1355.8,1013.4 1355.6,1015.0C1355.4,1016.6 1349.9,1016.7 1346.2,1016.9C1342.6,1017.1 1335.8,1016.4 1333.8,1016.2"/><!--fsys-->
<path d="M598.9,1145.1C599.6,1143.6 602.9,1137.9 603.2,1136.1C603.5,1134.4 602.8,1134.0 600.8,1134.7C598.8,1135.4 594.8,1137.3 591.3,1140.4C587.9,1143.5 584.4,1147.7 580.0,1153.2C575.5,1158.6 570.5,1166.0 564.8,1173.1C559.1,1180.2 552.1,1187.9 545.8,1195.8C539.5,1203.7 532.2,1212.6 526.9,1220.5C521.5,1228.4 516.6,1236.6 513.6,1243.2C510.6,1249.9 509.3,1255.9 508.9,1260.3C508.4,1264.7 510.4,1268.2 510.8,1269.8 M505.1,1220.5C504.1,1225.1 501.0,1239.7 499.4,1248.0C497.7,1256.2 495.9,1264.5 495.1,1269.8C494.3,1275.0 494.1,1276.7 494.6,1279.2C495.2,1281.8 496.5,1284.1 498.4,1284.9C500.3,1285.7 502.5,1285.4 506.0,1284.0C509.5,1282.6 514.2,1279.1 519.3,1276.4C524.3,1273.7 531.1,1270.3 536.4,1267.9C541.6,1265.4 548.6,1262.7 551.0,1261.7"/><!--larrow-->
<path d="M1648.4,1135.7C1649.3,1134.9 1650.8,1131.7 1653.8,1130.9C1656.7,1130.2 1660.6,1129.2 1666.2,1131.3C1671.8,1133.4 1680.4,1136.9 1687.5,1143.7C1694.6,1150.5 1702.3,1160.9 1708.9,1172.2C1715.4,1183.4 1722.3,1199.4 1726.6,1211.3C1730.9,1223.1 1733.4,1235.0 1734.6,1243.3C1735.8,1251.6 1734.7,1256.4 1733.7,1261.0C1732.8,1265.6 1729.6,1269.2 1728.8,1270.8 M1683.1,1250.4C1685.9,1251.8 1692.7,1256.0 1700.0,1259.3C1707.2,1262.5 1719.5,1267.2 1726.6,1269.9C1733.7,1272.6 1739.5,1276.7 1742.6,1275.2C1745.7,1273.8 1744.3,1266.7 1745.3,1261.0C1746.3,1255.4 1746.9,1245.9 1748.8,1241.5C1750.8,1237.0 1754.4,1235.7 1756.8,1234.4C1759.3,1233.0 1762.5,1233.6 1763.6,1233.5 M1761.3,1096.1C1760.2,1095.9 1757.6,1093.4 1755.1,1094.9C1752.5,1096.3 1748.5,1100.0 1746.2,1104.6C1743.8,1109.2 1741.6,1116.8 1740.8,1122.4C1740.1,1128.0 1740.3,1134.0 1741.7,1138.4C1743.2,1142.8 1745.7,1147.0 1749.7,1149.1C1753.7,1151.1 1763.1,1150.5 1765.7,1150.8 M1813.4,1091.8C1814.6,1093.4 1818.5,1096.6 1820.8,1101.1C1823.1,1105.6 1825.9,1113.2 1827.0,1118.9C1828.2,1124.5 1828.4,1130.7 1827.9,1134.9C1827.5,1139.0 1826.0,1141.2 1824.4,1143.7C1822.7,1146.3 1818.9,1150.3 1818.2,1150.0C1817.4,1149.7 1819.6,1143.3 1819.9,1142.0 M1840.4,1067.3C1840.1,1066.9 1837.2,1065.3 1838.9,1064.7C1840.7,1064.0 1845.8,1063.9 1851.0,1063.4C1856.2,1063.0 1867.0,1062.2 1870.2,1062.0 M1892.3,1045.1C1892.1,1047.9 1891.3,1056.2 1891.0,1062.0C1890.7,1067.8 1890.6,1077.1 1890.5,1080.1"/><!--rarrow-->
<path d="M66.6,1397.3C66.3,1403.2 62.9,1430.3 64.9,1432.6C67.0,1434.8 74.4,1417.8 79.0,1410.8C83.6,1403.8 90.1,1390.9 92.5,1390.7C94.9,1390.5 93.5,1403.5 93.5,1409.8C93.5,1416.1 90.5,1428.4 92.5,1428.4C94.5,1428.4 101.2,1415.8 105.6,1409.8C109.9,1403.7 115.9,1392.1 118.4,1392.1C121.0,1392.1 120.2,1404.1 120.9,1409.8C121.6,1415.5 120.6,1424.3 122.6,1426.3C124.6,1428.4 129.8,1425.3 132.9,1422.2C136.0,1419.1 139.3,1412.0 141.2,1407.7C143.1,1403.4 143.7,1392.8 144.3,1396.3C145.0,1399.7 144.9,1423.1 145.0,1428.4 M156.8,1380.7L152.6,1397.3 M252.2,1367.3C250.6,1372.3 245.8,1387.1 242.8,1397.3C239.9,1407.5 236.3,1420.8 234.5,1428.4C232.8,1436.0 232.8,1440.5 232.5,1442.9"/><!--L_minmax-->
<path d="M461.5,1405.9C462.1,1403.5 464.7,1395.2 465.0,1391.6C465.3,1388.1 464.3,1385.9 463.2,1384.6C462.1,1383.3 460.4,1383.0 458.3,1384.0C456.3,1385.0 453.5,1386.6 450.7,1390.5C448.0,1394.3 444.1,1401.6 441.9,1407.1C439.7,1412.5 437.8,1419.6 437.6,1423.1C437.4,1426.7 439.1,1427.9 440.8,1428.4C442.4,1428.9 445.2,1427.9 447.8,1426.1C450.4,1424.2 454.0,1420.4 456.6,1417.3C459.2,1414.1 461.2,1411.2 463.2,1407.1C465.2,1403.0 466.8,1398.0 468.5,1392.8C470.3,1387.6 472.7,1380.6 473.8,1375.8C474.9,1371.0 475.0,1366.6 475.0,1363.9C475.0,1361.2 474.4,1359.9 473.8,1359.8C473.2,1359.7 472.2,1360.1 471.4,1363.3C470.7,1366.5 469.9,1373.2 469.1,1378.7C468.3,1384.3 467.2,1391.1 466.8,1396.5C466.3,1401.9 466.0,1406.8 466.2,1411.2C466.4,1415.6 467.0,1420.8 467.9,1423.1C468.8,1425.4 469.9,1425.4 471.4,1424.9C473.0,1424.4 475.1,1423.0 477.3,1420.2C479.5,1417.4 482.6,1412.2 484.5,1408.3C486.5,1404.3 488.3,1400.7 489.2,1396.5C490.2,1392.4 490.2,1385.6 490.4,1383.4 M490.4,1383.4C490.0,1385.6 488.7,1392.4 488.1,1396.5C487.5,1400.7 486.8,1403.8 486.9,1408.3C487.0,1412.7 487.5,1420.3 488.7,1423.1C489.8,1426.0 492.0,1425.7 493.9,1425.5C495.8,1425.3 498.0,1424.2 500.0,1421.9C502.0,1419.7 504.3,1415.0 505.9,1411.8C507.4,1408.5 508.7,1405.9 509.4,1402.4C510.1,1398.8 510.3,1393.9 510.0,1390.5C509.7,1387.0 508.5,1382.9 507.6,1381.7C506.7,1380.4 505.5,1380.9 504.7,1382.8C503.9,1384.8 502.9,1389.7 502.9,1393.6C502.9,1397.5 503.7,1403.6 504.7,1406.5C505.7,1409.4 508.1,1410.4 508.8,1411.2 M630.0,1386.2C631.3,1385.8 636.4,1381.8 637.6,1383.8C638.9,1385.9 637.6,1393.2 637.6,1398.5C637.7,1403.8 637.4,1414.8 638.0,1415.5C638.7,1416.1 640.3,1407.8 641.5,1402.4C642.8,1397.0 644.6,1388.8 645.4,1383.0C646.3,1377.3 647.1,1367.9 646.6,1367.8C646.1,1367.7 643.0,1379.8 642.3,1382.3 M668.5,1415.5C669.8,1414.2 674.0,1410.8 676.1,1407.7C678.3,1404.6 680.6,1400.4 681.6,1396.9C682.7,1393.5 683.3,1389.6 682.4,1387.0C681.5,1384.3 678.5,1381.7 676.1,1380.9C673.8,1380.1 671.1,1380.6 668.5,1382.3C666.0,1383.9 662.4,1387.4 660.9,1390.9C659.4,1394.3 659.2,1399.3 659.3,1403.2C659.5,1407.0 659.9,1411.6 661.7,1413.9C663.5,1416.2 667.0,1416.8 670.1,1417.1C673.1,1417.3 676.5,1417.1 680.0,1415.5C683.6,1413.9 688.1,1410.8 691.6,1407.7C695.0,1404.6 698.7,1400.1 700.8,1396.9C702.8,1393.7 703.4,1387.0 703.9,1388.5C704.4,1390.1 703.8,1400.5 703.9,1406.3C704.0,1412.1 703.1,1421.8 704.3,1423.1C705.5,1424.4 708.6,1417.6 710.9,1413.9C713.3,1410.2 715.9,1404.7 718.6,1400.8C721.2,1397.0 724.5,1393.3 727.0,1390.9C729.4,1388.4 731.7,1385.5 733.2,1386.2C734.8,1386.8 736.0,1390.6 736.4,1394.6C736.7,1398.6 736.0,1404.9 735.6,1410.0C735.1,1415.2 733.5,1422.4 733.6,1425.5C733.7,1428.6 734.0,1429.0 736.4,1428.6C738.7,1428.2 746.0,1424.0 747.9,1423.1"/><!--L_duration-->
<path d="M522.4,1386.6C522.7,1386.3 523.6,1382.2 524.1,1384.9C524.6,1387.7 525.0,1396.3 525.3,1403.2C525.7,1410.1 525.0,1426.4 526.2,1426.4C527.3,1426.4 530.5,1409.5 532.4,1403.2C534.3,1396.8 535.6,1391.7 537.4,1388.2C539.2,1384.8 541.5,1382.7 543.2,1382.4C544.8,1382.2 545.7,1383.1 547.3,1386.6C549.0,1390.0 552.2,1400.4 553.1,1403.2 M572.6,1387.8C571.9,1387.3 570.2,1384.0 568.1,1384.9C565.9,1385.8 562.3,1389.1 559.8,1393.2C557.3,1397.4 554.4,1405.5 553.1,1409.8C551.9,1414.1 551.7,1417.4 552.3,1418.9C552.9,1420.5 554.4,1420.7 556.4,1418.9C558.5,1417.1 562.3,1412.2 564.7,1408.2C567.2,1404.1 570.0,1398.1 571.4,1394.9C572.8,1391.7 572.5,1387.7 573.0,1389.1C573.6,1390.5 573.7,1399.3 574.7,1403.2C575.7,1407.0 577.2,1410.3 578.8,1412.3C580.5,1414.3 582.3,1415.2 584.6,1415.2C587.0,1415.2 590.2,1414.3 592.9,1412.3C595.7,1410.3 598.9,1406.8 601.2,1403.2C603.6,1399.6 606.1,1392.8 607.0,1390.7 M613.7,1370.0C613.0,1372.8 610.4,1380.6 609.5,1386.6C608.6,1392.5 608.3,1400.4 608.3,1405.7C608.3,1410.9 608.5,1415.5 609.5,1418.1C610.6,1420.7 613.3,1421.7 614.5,1421.4C615.7,1421.1 617.0,1418.9 617.0,1416.4C617.0,1414.0 614.9,1408.2 614.5,1406.5 M588.4,1389.9C591.9,1389.8 603.2,1389.8 609.5,1389.5C615.8,1389.1 621.4,1388.7 626.1,1387.8C630.8,1386.9 635.9,1381.5 637.7,1384.1C639.5,1386.7 636.9,1397.9 636.9,1403.2C636.9,1408.4 637.6,1413.5 637.7,1415.6"/><!--L_ration-->
<path d="M203.6,1508.7C203.6,1514.0 203.5,1530.4 203.6,1540.4C203.7,1550.5 204.1,1564.3 204.2,1569.1 M204.2,1510.2C208.2,1510.0 222.0,1507.7 228.3,1508.7C234.6,1509.7 240.2,1512.5 241.9,1516.3C243.7,1520.0 242.2,1527.3 238.9,1531.4C235.6,1535.4 226.8,1538.4 222.3,1540.4C217.8,1542.4 212.7,1543.4 211.7,1543.4C210.7,1543.4 215.5,1540.9 216.3,1540.4 M281.2,1505.7C278.9,1505.7 271.1,1503.9 267.6,1505.7C264.1,1507.4 260.1,1512.5 260.1,1516.3C260.1,1520.0 263.8,1524.6 267.6,1528.3C271.4,1532.1 279.7,1535.1 282.7,1538.9C285.7,1542.7 286.7,1548.7 285.7,1551.0C284.7,1553.3 281.0,1553.3 276.7,1552.5C272.4,1551.8 262.8,1547.5 260.1,1546.5 M329.5,1504.2C327.3,1505.2 319.7,1506.2 316.0,1510.2C312.2,1514.2 308.4,1521.8 306.9,1528.3C305.4,1534.9 304.9,1544.4 306.9,1549.5C308.9,1554.6 312.4,1558.1 319.0,1559.2C325.5,1560.2 341.6,1556.1 346.2,1555.5 M408.1,1527.7L433.8,1525.3 M402.1,1544.0L441.3,1538.3 M524.4,1506.6C523.9,1506.2 514.9,1505.1 521.4,1504.2C527.8,1503.3 558.0,1498.6 563.1,1501.1C568.1,1503.7 555.0,1512.7 551.6,1519.3C548.2,1525.8 544.3,1534.9 542.5,1540.4C540.8,1546.0 540.4,1550.7 541.0,1552.5C541.6,1554.3 545.3,1551.2 546.2,1551.0 M518.4,1527.7L560.7,1516.3 M592.4,1502.7C590.1,1502.4 583.1,1499.1 578.8,1501.1C574.5,1503.2 569.0,1510.2 566.7,1514.7C564.4,1519.3 563.7,1527.1 565.2,1528.3C566.7,1529.6 571.5,1526.3 575.8,1522.3C580.1,1518.3 589.1,1503.7 590.9,1504.2C592.6,1504.7 587.4,1518.5 586.3,1525.3C585.3,1532.1 583.8,1541.9 584.8,1545.0C585.8,1548.0 591.1,1543.7 592.4,1543.4 M625.6,1502.7C623.4,1502.9 616.3,1500.9 612.0,1504.2C607.7,1507.4 602.5,1517.5 599.9,1522.3C597.4,1527.1 595.4,1532.4 596.9,1532.9C598.4,1533.4 604.2,1530.1 609.0,1525.3C613.8,1520.5 623.4,1502.7 625.6,1504.2C627.9,1505.7 622.8,1526.6 622.6,1534.4C622.3,1542.2 622.8,1548.7 624.1,1551.0C625.4,1553.3 629.1,1548.5 630.2,1548.0 M663.4,1502.7C661.4,1502.9 655.1,1501.4 651.3,1504.2C647.5,1506.9 642.7,1514.7 640.7,1519.3C638.7,1523.8 637.5,1530.4 639.2,1531.4C641.0,1532.4 647.0,1529.8 651.3,1525.3C655.6,1520.8 662.9,1501.7 664.9,1504.2C666.9,1506.7 663.7,1529.6 663.4,1540.4C663.0,1551.2 662.9,1564.3 662.8,1569.1"/><!--L_psc-->
<path d="M1431.1,1387.3C1430.9,1393.1 1427.3,1419.8 1429.4,1422.1C1431.5,1424.4 1439.2,1407.9 1443.6,1401.0C1448.0,1394.0 1453.8,1380.5 1456.0,1380.3C1458.2,1380.1 1456.8,1393.4 1456.8,1399.7C1456.8,1406.1 1453.7,1418.6 1456.0,1418.4C1458.4,1418.2 1466.2,1404.7 1471.0,1398.5C1475.7,1392.3 1482.2,1380.8 1484.6,1381.1C1487.1,1381.3 1485.5,1393.7 1485.9,1399.7C1486.3,1405.7 1485.3,1415.5 1487.1,1417.1C1489.0,1418.8 1494.0,1413.4 1497.1,1409.7C1500.2,1405.9 1503.8,1399.3 1505.8,1394.7C1507.8,1390.2 1508.4,1378.2 1509.0,1382.3C1509.7,1386.4 1509.4,1413.0 1509.5,1419.1 M1520.7,1371.1L1517.0,1386.0 M1616.5,1356.9C1614.9,1362.4 1609.5,1378.5 1606.6,1389.8C1603.7,1401.0 1600.8,1417.5 1599.1,1424.6C1597.4,1431.7 1596.6,1431.2 1596.1,1432.6 M1768.3,1398.5C1768.1,1397.0 1765.0,1392.0 1767.1,1389.8C1769.1,1387.5 1775.6,1385.9 1780.7,1384.8C1785.9,1383.6 1790.3,1383.0 1798.2,1382.8C1806.0,1382.6 1823.0,1383.4 1828.0,1383.5 M1808.1,1352.4C1807.7,1353.7 1806.2,1351.6 1805.6,1359.9C1805.0,1368.2 1805.0,1388.9 1804.4,1402.2C1803.8,1415.5 1802.9,1431.4 1801.9,1439.5C1800.9,1447.6 1800.6,1452.6 1798.2,1450.7C1795.7,1448.9 1788.8,1432.1 1787.0,1428.3"/><!--R_minmax-->
<path d="M1836.3,1372.0C1836.7,1377.5 1836.9,1402.2 1838.3,1405.0C1839.6,1407.7 1842.3,1393.3 1844.6,1388.5C1846.9,1383.7 1849.6,1377.5 1852.0,1376.1C1854.4,1374.7 1858.0,1379.5 1859.2,1380.2 M1873.5,1402.2C1875.5,1401.5 1882.2,1400.9 1885.8,1398.1C1889.5,1395.4 1894.5,1389.4 1895.4,1385.7C1896.4,1382.1 1893.6,1377.0 1891.3,1376.1C1889.0,1375.2 1884.0,1377.3 1881.7,1380.2C1879.4,1383.2 1877.1,1389.6 1877.6,1394.0C1878.0,1398.3 1880.6,1404.0 1884.5,1406.3C1888.3,1408.7 1895.0,1409.0 1900.9,1408.3C1906.9,1407.6 1913.8,1406.0 1920.2,1402.2C1926.6,1398.5 1936.5,1389.6 1939.4,1385.7C1942.4,1381.8 1940.1,1378.9 1938.1,1378.9C1936.0,1378.9 1930.3,1382.1 1927.1,1385.7C1923.9,1389.4 1917.7,1398.9 1918.8,1400.9C1920.0,1402.8 1929.6,1399.8 1933.9,1397.3C1938.3,1394.8 1942.6,1384.5 1944.9,1385.7C1947.2,1387.0 1947.0,1398.1 1947.7,1405.0C1948.4,1411.8 1947.7,1422.6 1949.0,1427.0C1950.4,1431.3 1953.6,1430.9 1955.9,1431.1C1958.2,1431.3 1961.6,1428.8 1962.8,1428.3 M1972.4,1376.1C1972.6,1380.0 1972.5,1394.4 1973.8,1399.5C1975.1,1404.5 1975.8,1408.2 1980.1,1406.3C1984.5,1404.5 1993.9,1390.1 1999.9,1388.5C2005.9,1386.9 2010.9,1395.1 2016.4,1396.7C2021.9,1398.3 2028.1,1399.9 2032.9,1398.1C2037.7,1396.3 2042.7,1389.6 2045.3,1385.7C2047.8,1381.8 2049.1,1377.3 2048.0,1374.7C2046.9,1372.2 2041.8,1370.2 2038.4,1370.6C2034.9,1371.1 2030.1,1374.1 2027.4,1377.5C2024.6,1380.9 2021.9,1387.6 2021.9,1391.2C2021.9,1394.9 2021.9,1398.3 2027.4,1399.5C2032.9,1400.6 2047.5,1399.5 2054.9,1398.1C2062.2,1396.7 2066.8,1394.7 2071.4,1391.2C2076.0,1387.8 2079.8,1375.4 2082.4,1377.5C2084.9,1379.5 2084.2,1400.6 2086.5,1403.6C2088.8,1406.6 2092.2,1399.0 2096.1,1395.4C2100.0,1391.7 2105.7,1383.7 2109.9,1381.6C2114.0,1379.5 2117.6,1380.2 2120.8,1383.0C2124.1,1385.7 2125.9,1395.1 2129.1,1398.1C2132.3,1401.1 2136.0,1401.5 2140.1,1400.9C2144.2,1400.2 2150.6,1397.2 2153.8,1394.0C2157.0,1390.8 2158.4,1383.7 2159.3,1381.6 M2156.6,1380.2C2158.0,1382.8 2160.7,1393.1 2164.8,1395.4C2168.9,1397.6 2176.3,1396.5 2181.3,1394.0C2186.4,1391.5 2190.5,1379.5 2195.1,1380.2C2199.6,1380.9 2204.0,1397.0 2208.8,1398.1C2213.6,1399.2 2220.7,1384.6 2223.9,1387.1C2227.1,1389.6 2227.8,1405.2 2228.0,1413.2C2228.3,1421.2 2228.5,1430.4 2225.3,1435.2C2222.1,1440.0 2214.1,1443.0 2208.8,1442.1C2203.5,1441.2 2195.1,1434.3 2193.7,1429.7C2192.3,1425.1 2196.2,1417.6 2200.6,1414.6C2204.9,1411.6 2212.6,1410.9 2219.8,1411.8C2227.0,1412.8 2240.0,1418.7 2244.0,1420.1"/><!--R_freq-->
<path d="M1530.8,1496.1C1530.0,1500.8 1527.4,1515.8 1526.1,1524.5C1524.7,1533.2 1522.6,1541.1 1522.5,1548.2C1522.4,1555.3 1525.1,1564.0 1525.6,1567.2 M1523.7,1505.5C1523.3,1504.2 1520.1,1499.6 1521.3,1497.3C1522.5,1494.9 1526.5,1492.1 1530.8,1491.3C1535.2,1490.5 1543.0,1490.1 1547.4,1492.5C1551.7,1494.9 1555.9,1500.8 1556.9,1505.5C1557.9,1510.3 1556.5,1517.0 1553.3,1520.9C1550.2,1524.9 1542.9,1527.5 1537.9,1529.2C1533.0,1531.0 1526.1,1531.2 1523.7,1531.6 M1607.8,1494.9C1605.6,1494.5 1599.1,1491.5 1594.8,1492.5C1590.4,1493.5 1584.5,1496.7 1581.8,1500.8C1579.0,1505.0 1577.2,1512.3 1578.2,1517.4C1579.2,1522.5 1584.7,1526.9 1587.7,1531.6C1590.6,1536.4 1594.8,1540.9 1596.0,1545.8C1597.2,1550.8 1597.0,1558.9 1594.8,1561.2C1592.6,1563.6 1586.5,1563.4 1582.9,1560.0C1579.4,1556.7 1574.8,1545.6 1573.5,1541.1C1572.1,1536.5 1573.9,1534.1 1574.6,1532.8C1575.4,1531.5 1577.6,1533.4 1578.2,1533.5 M1660.0,1507.9C1659.8,1505.9 1660.2,1498.6 1658.8,1496.1C1657.4,1493.5 1655.2,1491.3 1651.7,1492.5C1648.1,1493.7 1641.8,1497.8 1637.4,1503.2C1633.1,1508.5 1627.6,1517.4 1625.6,1524.5C1623.6,1531.6 1623.6,1540.3 1625.6,1545.8C1627.6,1551.4 1632.7,1555.6 1637.4,1557.7C1642.2,1559.7 1648.1,1558.5 1654.0,1558.2C1660.0,1557.8 1669.8,1555.8 1673.0,1555.3 M1710.9,1525.0L1734.6,1519.8 M1705.7,1538.7C1706.4,1538.1 1703.9,1536.3 1709.7,1535.2C1715.5,1534.1 1735.4,1532.6 1740.5,1532.1 M1816.4,1500.3C1819.7,1499.2 1828.1,1495.9 1836.5,1493.7C1844.9,1491.5 1863.7,1484.7 1866.8,1487.1C1870.0,1489.4 1858.9,1500.9 1855.5,1507.9C1852.0,1514.9 1848.3,1522.5 1846.0,1529.2C1843.6,1536.0 1842.1,1544.1 1841.2,1548.2C1840.4,1552.3 1840.0,1554.5 1840.8,1554.1C1841.5,1553.7 1845.1,1547.2 1846.0,1545.8 M1809.2,1520.2C1815.0,1520.0 1831.8,1518.7 1843.6,1518.6C1855.5,1518.5 1874.2,1519.6 1880.3,1519.8"/><!--R_psc-->
<path d="M111.3,1672.0C110.6,1672.0 108.7,1671.2 107.2,1672.0C105.7,1672.7 103.8,1674.0 102.4,1676.4C101.1,1678.8 99.4,1683.2 98.9,1686.5C98.4,1689.7 98.8,1694.1 99.5,1695.9C100.2,1697.8 101.7,1698.4 103.0,1697.7C104.4,1697.0 106.2,1695.0 107.8,1691.8C109.4,1688.6 111.4,1683.6 112.5,1678.8C113.6,1673.9 113.8,1668.0 114.3,1662.8C114.8,1657.6 115.3,1650.2 115.5,1647.7 M115.5,1647.7C115.3,1650.2 114.6,1657.8 114.3,1662.8C114.0,1667.8 113.4,1673.4 113.7,1677.6C114.0,1681.7 114.9,1685.2 116.1,1687.7C117.3,1690.1 119.2,1691.6 120.8,1692.4C122.4,1693.2 124.0,1693.4 125.5,1692.4C127.1,1691.4 129.1,1689.0 130.3,1686.5C131.4,1683.9 132.0,1680.2 132.4,1677.0C132.7,1673.7 132.5,1668.6 132.5,1666.9 M132.5,1666.9C132.7,1669.2 132.4,1676.8 133.2,1680.5C134.1,1684.3 136.1,1688.1 137.4,1689.4C138.7,1690.7 139.9,1689.6 140.9,1688.2C142.0,1686.9 143.3,1683.9 143.6,1681.1C144.0,1678.4 143.3,1674.2 143.0,1671.7C142.8,1669.1 141.9,1665.2 142.1,1665.7C142.4,1666.2 143.4,1672.3 144.5,1674.6C145.6,1676.9 147.4,1678.8 148.6,1679.4C149.9,1680.0 151.1,1679.7 152.2,1678.2C153.3,1676.7 154.4,1672.9 155.2,1670.5C155.9,1668.1 155.9,1663.8 156.6,1663.7C157.4,1663.6 159.0,1667.1 159.9,1669.9C160.8,1672.7 161.7,1676.6 162.3,1680.5C162.9,1684.5 163.3,1691.4 163.5,1693.6 M162.9,1678.2C163.2,1676.8 163.8,1672.3 164.6,1669.9C165.5,1667.5 166.9,1664.5 168.2,1664.0C169.5,1663.5 171.4,1665.6 172.3,1666.9C173.3,1668.2 173.8,1670.9 174.1,1671.7"/><!--L_dur1-->
<path d="M106.3,1834.6C105.6,1834.6 103.7,1833.8 102.2,1834.6C100.7,1835.3 98.8,1836.6 97.4,1839.0C96.1,1841.4 94.4,1845.8 93.9,1849.1C93.4,1852.3 93.8,1856.7 94.5,1858.5C95.2,1860.4 96.7,1861.0 98.0,1860.3C99.4,1859.6 101.2,1857.6 102.8,1854.4C104.4,1851.2 106.4,1846.2 107.5,1841.4C108.6,1836.5 108.8,1830.6 109.3,1825.4C109.8,1820.2 110.3,1812.8 110.5,1810.3 M110.5,1810.3C110.3,1812.8 109.6,1820.4 109.3,1825.4C109.0,1830.4 108.4,1836.0 108.7,1840.2C109.0,1844.3 109.9,1847.8 111.1,1850.3C112.3,1852.7 114.2,1854.2 115.8,1855.0C117.4,1855.8 119.0,1856.0 120.5,1855.0C122.1,1854.0 124.1,1851.6 125.3,1849.1C126.4,1846.5 127.0,1842.8 127.4,1839.6C127.7,1836.3 127.5,1831.2 127.5,1829.5 M127.5,1829.5C127.7,1831.8 127.4,1839.4 128.2,1843.1C129.1,1846.9 131.1,1850.7 132.4,1852.0C133.7,1853.3 134.9,1852.2 135.9,1850.8C137.0,1849.5 138.3,1846.5 138.6,1843.7C139.0,1841.0 138.3,1836.8 138.0,1834.3C137.8,1831.7 136.9,1827.8 137.1,1828.3C137.4,1828.8 138.4,1834.9 139.5,1837.2C140.6,1839.5 142.4,1841.4 143.6,1842.0C144.9,1842.6 146.1,1842.3 147.2,1840.8C148.3,1839.3 149.4,1835.5 150.2,1833.1C150.9,1830.7 150.9,1826.4 151.6,1826.3C152.4,1826.2 154.0,1829.7 154.9,1832.5C155.8,1835.3 156.7,1839.2 157.3,1843.1C157.9,1847.1 158.3,1854.0 158.5,1856.2 M157.9,1840.8C158.2,1839.4 158.8,1834.9 159.6,1832.5C160.5,1830.1 161.9,1827.1 163.2,1826.6C164.5,1826.1 166.4,1828.2 167.3,1829.5C168.3,1830.8 168.8,1833.5 169.1,1834.3"/><!--L_dur2-->
<path d="M290.8,1678.5C290.6,1680.8 289.7,1687.4 289.4,1692.3C289.1,1697.3 288.4,1707.4 289.0,1708.3C289.6,1709.2 291.5,1701.7 293.0,1697.7C294.5,1693.7 297.0,1684.8 297.9,1684.3C298.8,1683.9 298.0,1691.0 298.3,1695.0C298.7,1699.0 299.1,1705.4 300.1,1708.3C301.1,1711.2 302.8,1712.3 304.6,1712.3C306.3,1712.3 308.8,1710.8 310.8,1708.3C312.7,1705.9 314.6,1701.8 316.1,1697.7C317.6,1693.5 319.1,1687.3 319.7,1683.4C320.2,1679.6 320.0,1675.7 319.2,1674.6C318.5,1673.4 316.5,1674.4 315.2,1676.3C313.9,1678.3 311.9,1684.5 311.2,1686.1 M327.5,1663.9C327.8,1662.8 329.2,1656.2 329.4,1657.7C329.7,1659.1 329.2,1664.0 329.2,1672.8C329.1,1681.5 329.0,1703.9 329.0,1710.1 M329.4,1701.2C330.3,1699.1 333.0,1691.9 334.8,1688.8C336.5,1685.7 338.8,1683.0 340.1,1682.5C341.4,1682.1 342.0,1683.6 342.8,1686.1C343.5,1688.6 343.7,1694.1 344.5,1697.7C345.4,1701.2 346.8,1705.5 348.1,1707.4C349.4,1709.4 350.5,1709.5 352.5,1709.2C354.6,1708.9 358.3,1706.7 360.5,1705.7C362.8,1704.6 365.0,1703.4 365.9,1703.0 M365.9,1703.0C366.5,1701.7 369.1,1698.1 369.4,1695.0C369.7,1691.9 368.7,1686.4 367.6,1684.3C366.6,1682.3 364.7,1682.1 363.2,1682.5C361.7,1683.0 359.8,1684.8 358.8,1687.0C357.7,1689.2 356.8,1692.9 357.0,1695.9C357.1,1698.8 358.3,1703.0 359.6,1704.8C361.0,1706.5 362.9,1706.8 365.0,1706.5C367.1,1706.3 369.4,1705.4 372.1,1703.4C374.8,1701.5 378.8,1698.0 381.0,1695.0C383.2,1692.0 385.0,1683.4 385.4,1685.7C385.9,1687.9 383.9,1704.5 383.6,1708.3 M383.6,1708.3C384.7,1706.8 387.6,1702.1 389.9,1699.4C392.1,1696.8 394.6,1694.2 397.0,1692.3C399.3,1690.5 402.5,1687.6 404.1,1688.3C405.7,1689.1 405.9,1693.7 406.7,1696.8C407.6,1699.8 408.2,1704.3 409.4,1706.5C410.6,1708.8 410.6,1711.1 413.9,1710.1C417.1,1709.1 426.4,1702.0 429.0,1700.3"/><!--L_when1-->
<path d="M487.8,1709.5C488.1,1707.9 487.2,1705.5 489.5,1699.8C491.9,1694.0 498.0,1681.8 502.0,1674.9C506.0,1667.9 511.3,1657.7 513.5,1658.0C515.8,1658.3 514.7,1668.2 515.3,1676.7C515.9,1685.1 516.8,1703.3 517.1,1708.6 M488.7,1678.4C491.5,1678.1 499.9,1677.2 505.5,1676.7C511.2,1676.1 519.6,1675.2 522.4,1674.9 M543.8,1658.9C543.7,1662.7 543.2,1674.4 543.2,1682.0C543.2,1689.5 543.7,1700.5 543.8,1704.2 M540.2,1659.8C540.9,1659.3 542.1,1657.7 544.6,1657.1C547.2,1656.5 552.9,1655.3 555.3,1656.2C557.7,1657.1 559.2,1659.3 558.9,1662.4C558.6,1665.6 555.6,1671.0 553.5,1674.9C551.5,1678.7 548.2,1683.5 546.4,1685.5C544.6,1687.6 543.5,1687.0 542.9,1687.3 M544.6,1690.0C546.1,1690.1 550.0,1691.5 553.5,1690.9C557.1,1690.3 562.4,1687.8 566.0,1686.4C569.5,1685.1 573.4,1683.5 574.9,1682.9 M581.1,1658.0C581.1,1662.0 580.9,1673.8 581.1,1682.0C581.2,1690.1 581.5,1702.8 582.0,1706.9C582.4,1711.0 583.4,1706.6 583.7,1706.5 M582.8,1664.2C582.7,1662.4 580.6,1655.5 582.0,1653.6C583.3,1651.6 588.5,1651.8 590.8,1652.7C593.2,1653.6 595.6,1655.8 596.2,1658.9C596.8,1662.0 595.9,1667.5 594.4,1671.3C592.9,1675.2 589.7,1679.3 587.3,1682.0C584.9,1684.7 581.4,1686.4 580.2,1687.3 M583.7,1692.7C586.1,1693.1 593.8,1694.3 598.0,1695.3C602.1,1696.4 606.8,1698.3 608.6,1698.9 M637.9,1672.2L658.4,1670.4 M628.2,1684.7C629.1,1684.4 628.8,1683.3 633.5,1682.9C638.2,1682.4 652.7,1682.1 656.6,1682.0 M699.3,1658.0C697.8,1657.1 693.3,1651.3 690.4,1652.7C687.4,1654.0 683.3,1661.1 681.5,1666.0C679.7,1670.9 679.0,1676.4 679.7,1682.0C680.4,1687.6 683.3,1696.2 685.9,1699.8C688.6,1703.3 692.0,1704.5 695.7,1703.3C699.4,1702.1 705.2,1697.1 708.1,1692.7C711.1,1688.2 713.5,1682.3 713.5,1676.7C713.5,1671.0 710.5,1662.9 708.1,1658.9C705.8,1654.9 702.2,1653.3 699.3,1652.7C696.3,1652.1 692.7,1651.9 690.4,1655.3C688.0,1658.7 685.9,1670.1 685.0,1673.1 M745.5,1667.8L745.8,1668.8 M748.1,1678.4L748.7,1682.9"/><!--L_arr0-->
<path d="M1817.7,1742.2C1818.0,1740.6 1817.1,1738.2 1819.4,1732.5C1821.8,1726.7 1827.9,1714.5 1831.9,1707.6C1835.9,1700.6 1841.2,1690.4 1843.4,1690.7C1845.7,1691.0 1844.6,1700.9 1845.2,1709.4C1845.8,1717.8 1846.7,1736.0 1847.0,1741.3 M1818.6,1711.1C1821.4,1710.8 1829.8,1709.9 1835.4,1709.4C1841.1,1708.8 1849.5,1707.9 1852.3,1707.6 M1873.7,1691.6C1873.6,1695.4 1873.1,1707.1 1873.1,1714.7C1873.1,1722.2 1873.6,1733.2 1873.7,1736.9 M1870.1,1692.5C1870.8,1692.0 1872.0,1690.4 1874.5,1689.8C1877.1,1689.2 1882.8,1688.0 1885.2,1688.9C1887.6,1689.8 1889.1,1692.0 1888.8,1695.1C1888.5,1698.3 1885.5,1703.7 1883.4,1707.6C1881.4,1711.4 1878.1,1716.2 1876.3,1718.2C1874.5,1720.3 1873.4,1719.7 1872.8,1720.0 M1874.5,1722.7C1876.0,1722.8 1879.9,1724.2 1883.4,1723.6C1887.0,1723.0 1892.3,1720.5 1895.9,1719.1C1899.4,1717.8 1903.3,1716.2 1904.8,1715.6 M1911.0,1690.7C1911.0,1694.7 1910.8,1706.5 1911.0,1714.7C1911.1,1722.8 1911.4,1735.5 1911.9,1739.6C1912.3,1743.7 1913.3,1739.3 1913.6,1739.2 M1912.7,1696.9C1912.6,1695.1 1910.5,1688.2 1911.9,1686.3C1913.2,1684.3 1918.4,1684.5 1920.7,1685.4C1923.1,1686.3 1925.5,1688.5 1926.1,1691.6C1926.7,1694.7 1925.8,1700.2 1924.3,1704.0C1922.8,1707.9 1919.6,1712.0 1917.2,1714.7C1914.8,1717.4 1911.3,1719.1 1910.1,1720.0 M1913.6,1725.4C1916.0,1725.8 1923.7,1727.0 1927.9,1728.0C1932.0,1729.1 1936.7,1731.0 1938.5,1731.6 M1967.8,1704.9L1988.3,1703.1 M1958.1,1717.4C1959.0,1717.1 1958.7,1716.0 1963.4,1715.6C1968.1,1715.1 1982.6,1714.8 1986.5,1714.7 M2029.2,1690.7C2027.7,1689.8 2023.2,1684.0 2020.3,1685.4C2017.3,1686.7 2013.2,1693.8 2011.4,1698.7C2009.6,1703.6 2008.9,1709.1 2009.6,1714.7C2010.3,1720.3 2013.2,1728.9 2015.8,1732.5C2018.5,1736.0 2021.9,1737.2 2025.6,1736.0C2029.3,1734.8 2035.1,1729.8 2038.0,1725.4C2041.0,1720.9 2043.4,1715.0 2043.4,1709.4C2043.4,1703.7 2040.4,1695.6 2038.0,1691.6C2035.7,1687.6 2032.1,1686.0 2029.2,1685.4C2026.2,1684.8 2022.6,1684.6 2020.3,1688.0C2017.9,1691.4 2015.8,1702.8 2014.9,1705.8 M2075.4,1700.5L2075.7,1701.5 M2078.0,1711.1L2078.6,1715.6"/><!--R_arr0-->
<path d="M424.2,1776.2C423.0,1777.3 419.2,1778.6 417.0,1782.4C414.7,1786.2 412.2,1793.2 410.7,1799.0C409.3,1804.9 408.2,1813.5 408.2,1817.7C408.2,1821.9 409.1,1822.9 410.7,1824.3C412.4,1825.7 416.8,1825.7 418.0,1826.0 M460.5,1779.3L460.9,1819.8 M491.6,1776.2C493.5,1778.3 500.2,1783.5 503.0,1788.7C505.8,1793.8 507.7,1802.1 508.2,1807.3C508.7,1812.5 508.0,1815.9 506.1,1819.8C504.2,1823.6 498.3,1828.7 496.8,1830.5 M561.1,1772.1C559.8,1773.1 556.6,1774.1 553.8,1778.3C551.0,1782.4 546.5,1790.4 544.5,1797.0C542.4,1803.5 541.5,1812.2 541.4,1817.7C541.2,1823.2 541.5,1827.8 543.4,1830.1C545.3,1832.5 551.2,1831.5 552.8,1831.8 M605.6,1782.4C603.9,1781.7 599.4,1778.3 595.3,1778.3C591.1,1778.3 583.7,1780.4 580.8,1782.4C577.8,1784.5 576.3,1787.3 577.6,1790.7C579.0,1794.2 585.4,1799.7 589.0,1803.2C592.7,1806.6 597.3,1809.0 599.4,1811.5C601.5,1813.9 602.4,1816.1 601.5,1817.7C600.6,1819.2 596.6,1820.8 594.2,1820.8C591.8,1820.8 588.4,1819.6 587.0,1817.7C585.6,1815.8 584.7,1812.9 585.9,1809.4C587.1,1805.9 590.9,1801.1 594.2,1797.0C597.5,1792.8 603.7,1786.6 605.6,1784.5 M631.6,1778.3C630.3,1779.3 625.9,1780.0 624.3,1784.5C622.7,1789.0 621.5,1799.4 621.8,1805.2C622.2,1811.1 624.2,1817.2 626.4,1819.8C628.5,1822.4 632.4,1823.2 634.7,1820.8C636.9,1818.4 639.3,1811.3 639.8,1805.2C640.4,1799.2 639.2,1789.0 637.8,1784.5C636.4,1780.0 632.9,1776.0 631.6,1778.3C630.2,1780.5 629.8,1794.7 629.5,1798.0 M659.5,1784.5C658.3,1785.9 653.7,1788.0 652.3,1792.8C650.9,1797.6 650.6,1808.4 651.2,1813.5C651.9,1818.7 654.4,1822.7 656.4,1823.9C658.5,1825.1 661.6,1824.3 663.7,1820.8C665.8,1817.3 668.5,1808.9 668.9,1803.2C669.2,1797.5 667.3,1789.7 665.8,1786.6C664.2,1783.5 660.8,1780.7 659.5,1784.5C658.3,1788.3 658.7,1805.2 658.5,1809.4 M686.5,1784.5C684.9,1785.6 679.1,1786.2 677.2,1790.7C675.3,1795.2 674.6,1806.5 675.1,1811.5C675.6,1816.5 678.0,1819.2 680.3,1820.8C682.5,1822.4 686.2,1823.4 688.6,1820.8C691.0,1818.2 694.1,1810.6 694.8,1805.2C695.5,1799.9 694.1,1792.1 692.7,1788.7C691.3,1785.2 687.7,1782.1 686.5,1784.5C685.3,1786.9 685.6,1800.1 685.5,1803.2 M710.3,1770.0C711.5,1772.1 715.8,1777.3 717.6,1782.4C719.4,1787.6 721.0,1794.9 721.3,1801.1C721.7,1807.3 721.0,1814.9 719.7,1819.8C718.4,1824.6 714.5,1828.4 713.5,1830.1 M489.5,1854.0C487.4,1853.8 479.5,1851.7 477.1,1852.9C474.7,1854.1 473.6,1858.1 475.0,1861.2C476.4,1864.3 483.3,1868.1 485.4,1871.6C487.4,1875.1 488.1,1879.2 487.4,1882.0C486.8,1884.7 483.3,1887.8 481.2,1888.2C479.2,1888.5 475.7,1887.1 475.0,1884.0C474.3,1880.9 474.3,1874.4 477.1,1869.5C479.8,1864.7 489.2,1857.4 491.6,1855.0 M513.4,1851.9C512.2,1852.8 507.7,1853.5 506.1,1857.1C504.6,1860.7 503.9,1869.2 504.0,1873.7C504.2,1878.2 505.4,1882.1 507.1,1884.0C508.9,1885.9 512.0,1887.1 514.4,1885.1C516.8,1883.0 520.5,1876.3 521.7,1871.6C522.9,1866.9 522.9,1860.4 521.7,1857.1C520.5,1853.8 516.0,1851.9 514.4,1851.9C512.8,1851.9 512.7,1856.2 512.3,1857.1"/><!--L_frac1-->
<path d="M555.8,1888.5C556.7,1887.2 559.8,1882.9 561.6,1880.4C563.3,1877.9 565.3,1877.0 566.6,1873.5C567.8,1870.0 569.0,1860.1 569.3,1859.6C569.5,1859.1 568.2,1867.2 568.1,1870.4C568.0,1873.6 567.6,1877.2 568.5,1878.9C569.3,1880.6 571.3,1880.9 573.1,1880.4C574.9,1879.9 577.4,1878.0 579.3,1875.8C581.1,1873.6 583.0,1871.2 584.3,1867.3C585.6,1863.5 586.7,1852.6 587.0,1852.7C587.2,1852.8 585.8,1863.5 585.8,1868.1C585.8,1872.7 586.3,1878.0 587.0,1880.4C587.7,1882.9 588.4,1883.2 590.0,1882.7C591.7,1882.2 595.8,1878.2 597.0,1877.3 M608.5,1853.5C608.2,1855.1 607.1,1859.2 606.6,1863.5C606.2,1867.7 605.4,1876.4 605.8,1878.9C606.3,1881.3 608.7,1878.2 609.3,1878.1 M609.3,1871.2C610.7,1870.5 615.3,1868.9 617.8,1867.3C620.2,1865.8 622.3,1864.6 623.9,1861.9C625.6,1859.2 627.1,1853.0 627.8,1851.2 M627.8,1849.6C627.3,1852.1 625.5,1859.0 625.1,1864.3C624.6,1869.5 624.5,1877.5 625.1,1881.2C625.7,1884.9 626.8,1886.7 628.6,1886.6C630.3,1886.5 634.3,1881.5 635.5,1880.4 M640.9,1868.9C641.9,1868.3 644.1,1866.2 647.0,1865.4C650.0,1864.6 657.8,1862.1 658.6,1863.9C659.4,1865.6 652.9,1872.9 651.7,1875.8C650.4,1878.7 650.1,1879.8 650.9,1881.2C651.7,1882.6 653.5,1884.1 656.3,1884.3C659.1,1884.4 665.9,1882.4 667.8,1882.0 M645.5,1875.8L667.1,1873.5"/><!--L_mhz1-->
<path d="M88.2,1982.9C87.5,1982.9 85.5,1982.2 84.1,1982.9C82.6,1983.7 80.7,1985.0 79.3,1987.4C77.9,1989.8 76.3,1994.2 75.8,1997.5C75.3,2000.7 75.7,2005.1 76.4,2006.9C77.0,2008.8 78.5,2009.4 79.9,2008.7C81.3,2008.0 83.1,2006.0 84.6,2002.8C86.2,1999.6 88.3,1994.6 89.4,1989.8C90.5,1984.9 90.7,1979.0 91.2,1973.8C91.7,1968.6 92.2,1961.2 92.3,1958.7 M92.3,1958.7C92.2,1961.2 91.5,1968.8 91.2,1973.8C90.9,1978.8 90.3,1984.4 90.6,1988.6C90.9,1992.7 91.8,1996.2 92.9,1998.6C94.1,2001.1 96.1,2002.6 97.7,2003.4C99.3,2004.2 100.8,2004.4 102.4,2003.4C104.0,2002.4 106.0,2000.0 107.2,1997.5C108.3,1994.9 108.9,1991.2 109.2,1988.0C109.6,1984.7 109.4,1979.6 109.4,1977.9 M109.4,1977.9C109.5,1980.2 109.3,1987.8 110.1,1991.5C110.9,1995.3 113.0,1999.1 114.3,2000.4C115.6,2001.7 116.8,2000.6 117.8,1999.2C118.9,1997.9 120.1,1994.9 120.5,1992.1C120.8,1989.4 120.1,1985.2 119.9,1982.7C119.7,1980.1 118.8,1976.2 119.0,1976.7C119.3,1977.2 120.3,1983.3 121.4,1985.6C122.5,1987.9 124.2,1989.8 125.5,1990.4C126.8,1990.9 128.0,1990.7 129.1,1989.2C130.2,1987.7 131.3,1983.9 132.0,1981.5C132.8,1979.0 132.7,1974.8 133.5,1974.7C134.3,1974.6 135.8,1978.1 136.8,1980.9C137.7,1983.7 138.6,1987.6 139.2,1991.5C139.7,1995.5 140.1,2002.4 140.3,2004.6 M139.7,1989.2C140.0,1987.8 140.6,1983.2 141.5,1980.9C142.4,1978.5 143.8,1975.4 145.1,1975.0C146.4,1974.5 148.2,1976.6 149.2,1977.9C150.2,1979.2 150.7,1981.9 151.0,1982.7"/><!--H1_dur-->
<path d="M524.1,1986.1C523.6,1985.8 522.1,1983.8 521.1,1984.3C520.1,1984.8 518.5,1986.7 518.1,1989.1C517.7,1991.6 518.5,1995.6 518.7,1998.9C518.9,2002.1 520.0,2005.7 519.3,2008.6C518.6,2011.4 516.5,2014.9 514.4,2015.9C512.4,2016.9 508.6,2016.1 507.1,2014.7C505.7,2013.2 504.9,2009.0 505.9,2007.4C506.9,2005.7 509.8,2005.8 513.2,2004.9C516.7,2004.0 522.7,2003.3 526.6,2001.9C530.4,2000.5 533.7,1998.6 536.3,1996.4C538.9,1994.3 541.2,1990.8 542.4,1989.1C543.6,1987.5 544.0,1987.0 543.6,1986.7C543.2,1986.4 541.4,1985.3 539.9,1987.3C538.5,1989.3 535.8,1994.9 535.1,1998.9C534.4,2002.8 534.1,2008.7 535.7,2011.0C537.3,2013.3 541.9,2013.0 544.8,2012.8C547.7,2012.6 550.3,2011.5 553.3,2009.8C556.3,2008.1 560.3,2005.9 563.0,2002.5C565.7,1999.1 568.3,1992.2 569.7,1989.1C571.1,1986.1 572.0,1984.7 571.5,1984.3C571.0,1983.9 568.1,1984.7 566.7,1986.7C565.2,1988.7 563.4,1993.0 563.0,1996.4C562.6,1999.9 564.0,2005.5 564.2,2007.4 M589.7,1988.5C588.5,1988.8 584.1,1988.4 582.4,1990.4C580.8,1992.3 579.8,1997.3 580.0,2000.1C580.2,2002.8 581.8,2006.2 583.7,2006.8C585.5,2007.4 589.3,2005.6 590.9,2003.7C592.6,2001.8 593.4,1997.9 593.4,1995.2C593.4,1992.6 592.0,1988.9 590.9,1987.9C589.9,1986.9 587.9,1988.9 587.3,1989.1 M593.4,1992.8C594.4,1992.4 597.6,1988.2 599.4,1990.4C601.3,1992.5 602.7,2004.5 604.3,2005.5C605.9,2006.6 607.1,1999.4 609.2,1996.4C611.2,1993.5 614.4,1988.7 616.4,1987.9C618.5,1987.1 620.1,1989.3 621.3,1991.6C622.5,1993.8 622.5,1999.1 623.7,2001.3C624.9,2003.5 626.6,2004.7 628.6,2004.9C630.6,2005.1 633.5,2004.1 635.9,2002.5C638.3,2000.9 642.0,1996.4 643.2,1995.2 M645.6,1991.6C644.6,1992.2 641.1,1993.4 639.5,1995.2C637.9,1997.0 635.9,2000.9 635.9,2002.5C635.9,2004.1 637.7,2005.3 639.5,2004.9C641.3,2004.5 644.4,2002.5 646.8,2000.1C649.2,1997.6 652.1,1994.0 654.1,1990.4C656.1,1986.7 657.8,1981.6 659.0,1978.2C660.1,1974.9 661.4,1969.3 660.8,1970.3C660.2,1971.3 656.8,1979.9 655.3,1984.3C653.8,1988.6 651.9,1993.6 651.7,1996.4C651.5,1999.3 651.9,2000.6 654.1,2001.3C656.3,2002.0 661.2,2001.5 665.0,2000.7C668.9,1999.9 675.1,1997.1 677.2,1996.4 M682.0,1982.5C682.1,1983.8 682.0,1987.6 682.6,1990.4C683.2,1993.1 684.6,1996.7 685.7,1998.9C686.8,2001.0 690.1,2001.9 689.3,2003.1C688.5,2004.3 683.4,2005.3 680.8,2006.2C678.2,2007.0 674.7,2007.7 673.5,2008.0"/><!--H1_seconds-->
<path d="M718.3,1994.1C718.5,1993.7 716.5,1992.4 719.5,1991.7C722.4,1991.0 733.3,1990.2 736.1,1990.0 M720.7,2003.6L733.7,2001.8 M779.9,1972.2C779.3,1971.5 777.7,1967.5 776.4,1968.0C775.0,1968.5 772.7,1971.4 771.6,1975.1C770.5,1978.9 769.6,1986.0 769.8,1990.5C770.0,1995.1 771.1,2000.4 772.8,2002.4C774.5,2004.4 777.7,2004.4 779.9,2002.4C782.1,2000.4 784.6,1994.9 785.8,1990.5C787.0,1986.2 787.6,1980.1 787.0,1976.3C786.4,1972.6 783.7,1969.0 782.3,1968.0C780.9,1967.0 779.3,1970.0 778.7,1970.4 M804.8,1994.7L805.0,1995.0 M819.6,1966.3C819.9,1969.3 820.8,1978.6 821.4,1984.6C822.0,1990.6 822.9,1999.4 823.2,2002.4 M840.3,1983.4C840.3,1986.6 839.9,2001.2 840.3,2002.4C840.7,2003.6 841.5,1993.3 842.7,1990.5C843.9,1987.8 845.9,1985.8 847.4,1985.8C849.0,1985.8 851.2,1988.8 852.2,1990.5C853.2,1992.3 852.8,1996.5 853.4,1996.5C854.0,1996.5 854.5,1992.3 855.7,1990.5C856.9,1988.8 858.5,1986.0 860.5,1985.8C862.4,1985.6 866.0,1987.8 867.6,1989.4C869.2,1990.9 868.6,1994.1 870.0,1995.3C871.3,1996.5 872.9,1996.9 875.9,1996.5C878.8,1996.1 884.2,1995.1 887.7,1992.9C891.3,1990.7 894.8,1986.0 897.2,1983.4C899.6,1980.9 902.1,1979.1 901.9,1977.5C901.7,1975.9 898.0,1974.0 896.0,1974.0C894.0,1974.0 890.9,1975.5 890.1,1977.5C889.3,1979.5 889.5,1983.4 891.3,1985.8C893.1,1988.2 898.2,1989.8 900.8,1991.7C903.3,1993.7 906.5,1996.4 906.7,1997.7C906.9,1998.9 904.7,1999.2 901.9,1999.4C899.2,1999.6 892.1,1998.9 890.1,1998.8"/><!--H1_ms-->
<path d="M122.7,2116.0C121.6,2116.3 118.5,2115.7 116.1,2117.9C113.7,2120.1 110.1,2125.3 108.5,2129.3C107.0,2133.2 106.5,2139.1 106.8,2141.6C107.1,2144.1 108.4,2144.9 110.4,2144.5C112.4,2144.0 116.8,2141.6 119.0,2138.8C121.1,2135.9 122.1,2133.2 123.2,2127.4C124.3,2121.5 125.0,2110.6 125.6,2103.7C126.1,2096.7 126.4,2088.7 126.5,2085.7 M126.5,2085.7C126.1,2087.9 125.0,2093.3 124.2,2099.0C123.4,2104.6 122.1,2113.8 121.8,2119.8C121.5,2125.8 121.3,2131.3 122.3,2135.0C123.2,2138.6 125.5,2141.0 127.5,2141.6C129.5,2142.2 132.4,2141.5 134.1,2138.8C135.9,2136.1 137.3,2130.4 137.9,2125.5C138.6,2120.6 137.9,2109.4 138.1,2109.4C138.3,2109.4 138.3,2121.1 138.9,2125.5C139.5,2129.9 140.4,2134.0 141.7,2135.9C143.0,2137.8 145.0,2137.8 146.4,2136.9C147.9,2135.9 149.4,2133.1 150.2,2130.2C151.1,2127.4 151.7,2123.0 151.7,2119.8C151.7,2116.7 150.7,2111.6 150.2,2111.3C149.8,2111.0 148.7,2114.4 148.8,2117.9C149.0,2121.4 150.8,2129.8 151.2,2132.1 M159.7,2115.1C160.1,2114.1 161.1,2109.2 162.1,2109.4C163.0,2109.5 164.3,2111.9 165.4,2116.0C166.5,2120.1 167.9,2132.9 168.7,2134.0C169.5,2135.1 169.4,2126.0 170.1,2122.7C170.9,2119.3 172.0,2116.3 173.0,2114.1C174.0,2111.9 175.8,2110.2 176.3,2109.4 M177.4,2136.7C178.0,2138.1 179.8,2141.4 180.7,2145.2C181.5,2149.0 182.2,2157.2 182.6,2159.6 M182.6,2149.0C183.0,2147.0 184.7,2139.0 185.5,2136.7C186.3,2134.4 187.0,2134.5 187.6,2135.2C188.2,2135.9 188.8,2137.7 189.2,2140.9C189.6,2144.2 189.3,2154.6 190.0,2154.9C190.6,2155.2 191.7,2146.2 192.9,2142.6C194.1,2138.9 196.1,2134.8 197.2,2133.0C198.2,2131.2 198.8,2130.6 199.3,2131.9C199.9,2133.3 200.1,2137.7 200.4,2140.9C200.6,2144.2 200.5,2149.1 200.9,2151.7C201.4,2154.2 202.0,2155.4 203.0,2156.4C204.1,2157.4 205.9,2157.7 207.3,2157.5C208.7,2157.4 210.9,2155.7 211.6,2155.4 M216.9,2135.6C216.4,2135.9 214.8,2135.7 213.7,2137.3C212.7,2138.8 211.2,2142.6 210.5,2145.2C209.8,2147.8 209.4,2151.3 209.7,2152.7C209.9,2154.1 211.2,2154.8 212.1,2153.7C213.1,2152.7 214.6,2148.9 215.4,2146.4C216.1,2143.8 216.3,2138.7 216.9,2138.3C217.5,2137.9 218.3,2141.6 219.1,2143.7C219.8,2145.8 220.4,2148.9 221.1,2150.6C221.8,2152.3 222.4,2153.4 223.3,2153.7C224.2,2154.1 226.0,2152.9 226.5,2152.7 M228.2,2145.2C229.1,2143.6 232.3,2138.1 233.9,2135.6C235.5,2133.2 236.6,2129.9 237.7,2130.3C238.9,2130.8 239.5,2135.8 240.9,2138.3C242.2,2140.8 244.2,2143.3 245.7,2145.2C247.2,2147.1 248.8,2149.1 250.0,2149.5C251.1,2149.8 252.2,2148.1 252.6,2147.4C253.0,2146.7 252.6,2145.6 252.6,2145.2 M252.6,2130.3C251.7,2130.9 249.1,2131.5 247.3,2133.6C245.5,2135.6 243.9,2139.0 242.0,2142.6C240.1,2146.1 237.1,2152.8 236.1,2154.9"/><!--L_durmax1-->
<path d="M93.5,2265.9C92.4,2266.2 89.3,2265.6 86.9,2267.8C84.5,2270.0 80.9,2275.2 79.3,2279.2C77.8,2283.1 77.3,2289.0 77.6,2291.5C77.9,2294.0 79.2,2294.8 81.2,2294.4C83.2,2293.9 87.6,2291.5 89.8,2288.7C91.9,2285.8 92.9,2283.1 94.0,2277.3C95.1,2271.4 95.8,2260.5 96.4,2253.6C96.9,2246.6 97.2,2238.6 97.3,2235.6 M97.3,2235.6C96.9,2237.8 95.8,2243.2 95.0,2248.9C94.2,2254.5 92.9,2263.7 92.6,2269.7C92.3,2275.7 92.1,2281.2 93.1,2284.9C94.0,2288.5 96.3,2290.9 98.3,2291.5C100.3,2292.1 103.2,2291.4 104.9,2288.7C106.7,2286.0 108.1,2280.3 108.7,2275.4C109.4,2270.5 108.7,2259.3 108.9,2259.3C109.1,2259.3 109.1,2271.0 109.7,2275.4C110.3,2279.8 111.2,2283.9 112.5,2285.8C113.8,2287.7 115.8,2287.7 117.2,2286.8C118.7,2285.8 120.2,2283.0 121.0,2280.1C121.9,2277.3 122.5,2272.9 122.5,2269.7C122.5,2266.6 121.5,2261.5 121.0,2261.2C120.6,2260.9 119.5,2264.3 119.6,2267.8C119.8,2271.3 121.6,2279.7 122.0,2282.0 M130.5,2265.0C130.9,2264.0 131.9,2259.1 132.9,2259.3C133.8,2259.4 135.1,2261.8 136.2,2265.9C137.3,2270.0 138.7,2282.8 139.5,2283.9C140.3,2285.0 140.2,2275.9 140.9,2272.6C141.7,2269.2 142.8,2266.2 143.8,2264.0C144.8,2261.8 146.6,2260.1 147.1,2259.3 M148.2,2286.6C148.8,2288.0 150.6,2291.3 151.5,2295.1C152.3,2298.9 153.0,2307.1 153.4,2309.5 M153.4,2298.9C153.8,2296.9 155.5,2288.9 156.3,2286.6C157.1,2284.3 157.8,2284.4 158.4,2285.1C159.0,2285.8 159.6,2287.6 160.0,2290.8C160.4,2294.1 160.1,2304.5 160.8,2304.8C161.4,2305.1 162.5,2296.1 163.7,2292.5C164.9,2288.8 166.9,2284.7 168.0,2282.9C169.0,2281.1 169.6,2280.5 170.1,2281.8C170.7,2283.2 170.9,2287.6 171.2,2290.8C171.4,2294.1 171.3,2299.0 171.7,2301.6C172.2,2304.1 172.8,2305.3 173.8,2306.3C174.9,2307.3 176.7,2307.6 178.1,2307.4C179.5,2307.3 181.7,2305.6 182.4,2305.3 M187.7,2285.5C187.2,2285.8 185.6,2285.6 184.5,2287.2C183.5,2288.7 182.0,2292.5 181.3,2295.1C180.6,2297.7 180.2,2301.2 180.5,2302.6C180.7,2304.0 182.0,2304.7 182.9,2303.6C183.9,2302.6 185.4,2298.8 186.2,2296.3C186.9,2293.7 187.1,2288.6 187.7,2288.2C188.3,2287.8 189.1,2291.5 189.9,2293.6C190.6,2295.7 191.2,2298.8 191.9,2300.5C192.6,2302.2 193.2,2303.3 194.1,2303.6C195.0,2304.0 196.8,2302.8 197.3,2302.6 M199.0,2295.1C199.9,2293.5 203.1,2288.0 204.7,2285.5C206.3,2283.1 207.4,2279.8 208.5,2280.2C209.7,2280.7 210.3,2285.7 211.7,2288.2C213.0,2290.7 215.0,2293.2 216.5,2295.1C218.0,2297.0 219.6,2299.0 220.8,2299.4C221.9,2299.7 223.0,2298.0 223.4,2297.3C223.8,2296.6 223.4,2295.5 223.4,2295.1 M223.4,2280.2C222.5,2280.8 219.9,2281.4 218.1,2283.5C216.3,2285.5 214.7,2288.9 212.8,2292.5C210.9,2296.0 207.9,2302.7 206.9,2304.8"/><!--H2_durmax-->
<path d="M1620.9,1712.2C1620.7,1714.5 1619.9,1721.0 1619.6,1726.0C1619.3,1730.9 1618.6,1741.1 1619.2,1742.0C1619.8,1742.8 1621.7,1735.3 1623.2,1731.3C1624.6,1727.3 1627.2,1718.4 1628.1,1718.0C1628.9,1717.5 1628.1,1724.6 1628.5,1728.6C1628.9,1732.6 1629.2,1739.1 1630.3,1742.0C1631.3,1744.8 1632.9,1746.0 1634.7,1746.0C1636.5,1746.0 1639.0,1744.4 1640.9,1742.0C1642.9,1739.5 1644.8,1735.4 1646.3,1731.3C1647.8,1727.1 1649.3,1720.9 1649.8,1717.1C1650.3,1713.2 1650.1,1709.4 1649.4,1708.2C1648.6,1707.0 1646.7,1708.0 1645.4,1710.0C1644.0,1711.9 1642.0,1718.1 1641.4,1719.7 M1657.6,1697.5C1658.0,1696.5 1659.3,1689.8 1659.6,1691.3C1659.9,1692.8 1659.4,1697.7 1659.3,1706.4C1659.3,1715.1 1659.2,1737.5 1659.2,1743.7 M1659.6,1734.8C1660.5,1732.8 1663.2,1725.5 1664.9,1722.4C1666.7,1719.3 1668.9,1716.6 1670.3,1716.2C1671.6,1715.7 1672.2,1717.2 1672.9,1719.7C1673.7,1722.3 1673.8,1727.7 1674.7,1731.3C1675.6,1734.8 1676.9,1739.1 1678.3,1741.1C1679.6,1743.0 1680.6,1743.1 1682.7,1742.8C1684.8,1742.5 1688.5,1740.3 1690.7,1739.3C1692.9,1738.3 1695.1,1737.1 1696.0,1736.6 M1696.0,1736.6C1696.6,1735.3 1699.3,1731.7 1699.6,1728.6C1699.9,1725.5 1698.8,1720.0 1697.8,1718.0C1696.8,1715.9 1694.8,1715.7 1693.4,1716.2C1691.9,1716.6 1690.0,1718.4 1688.9,1720.6C1687.9,1722.8 1687.0,1726.5 1687.1,1729.5C1687.3,1732.5 1688.5,1736.6 1689.8,1738.4C1691.1,1740.2 1693.1,1740.4 1695.1,1740.2C1697.2,1740.0 1699.6,1739.0 1702.3,1737.1C1704.9,1735.1 1708.9,1731.6 1711.1,1728.6C1713.4,1725.7 1715.1,1717.1 1715.6,1719.3C1716.0,1721.5 1714.1,1738.2 1713.8,1742.0 M1713.8,1742.0C1714.8,1740.5 1717.8,1735.7 1720.0,1733.1C1722.2,1730.4 1724.8,1727.8 1727.1,1726.0C1729.5,1724.1 1732.6,1721.2 1734.2,1722.0C1735.9,1722.7 1736.0,1727.4 1736.9,1730.4C1737.8,1733.4 1738.4,1738.0 1739.6,1740.2C1740.8,1742.4 1740.8,1744.8 1744.0,1743.7C1747.3,1742.7 1756.6,1735.6 1759.1,1734.0"/><!--R_when1-->
<path d="M483.1,2151.6C485.0,2148.4 490.6,2139.3 494.7,2132.0C498.7,2124.7 505.1,2107.4 507.4,2107.7C509.7,2108.1 508.1,2126.0 508.5,2134.3C508.9,2142.6 509.5,2153.6 509.7,2157.4 M483.1,2126.2C486.2,2125.7 494.7,2124.1 501.6,2122.8C508.5,2121.4 520.8,2118.9 524.7,2118.1 M529.3,2111.2C528.9,2115.1 527.6,2127.2 527.0,2134.3C526.4,2141.4 526.0,2150.7 525.9,2154.0 M525.9,2113.5C527.6,2112.9 533.0,2109.9 536.2,2110.1C539.5,2110.2 544.7,2112.2 545.5,2114.7C546.3,2117.2 543.2,2121.8 540.9,2125.1C538.6,2128.3 533.6,2131.0 531.6,2134.3C529.7,2137.6 526.6,2143.6 529.3,2144.7C532.0,2145.9 542.4,2143.0 547.8,2141.2C553.2,2139.5 559.4,2135.5 561.7,2134.3 M565.1,2113.5C564.6,2117.0 562.4,2127.4 561.7,2134.3C560.9,2141.2 560.7,2151.6 560.5,2155.1 M561.7,2113.5C563.2,2112.8 568.2,2109.3 570.9,2108.9C573.6,2108.5 577.1,2108.9 577.8,2111.2C578.6,2113.5 576.7,2118.9 575.5,2122.8C574.4,2126.6 572.1,2130.5 570.9,2134.3C569.8,2138.2 566.3,2144.3 568.6,2145.9C570.9,2147.4 580.5,2144.5 584.8,2143.6C589.0,2142.6 592.5,2140.7 594.0,2140.1 M600.9,2118.1L621.7,2117.0 M598.6,2138.9C600.2,2138.6 604.2,2137.4 607.9,2136.6C611.5,2135.9 618.5,2134.7 620.6,2134.3 M663.3,2111.2C664.1,2110.1 665.6,2105.8 667.9,2104.3C670.3,2102.7 674.9,2100.8 677.2,2102.0C679.5,2103.1 682.2,2107.0 681.8,2111.2C681.4,2115.4 678.0,2122.4 674.9,2127.4C671.8,2132.4 666.6,2137.4 663.3,2141.2C660.1,2145.1 655.2,2148.8 655.2,2150.5C655.2,2152.2 659.3,2152.2 663.3,2151.6C667.4,2151.1 674.7,2148.9 679.5,2147.0C684.3,2145.1 690.1,2141.2 692.2,2140.1 M700.3,2067.3C699.9,2070.8 698.6,2081.6 698.0,2088.1C697.4,2094.7 697.0,2103.5 696.8,2106.6 M730.3,2068.5C728.8,2068.9 723.8,2068.3 721.1,2070.8C718.4,2073.3 715.9,2078.7 714.2,2083.5C712.4,2088.3 710.7,2096.0 710.7,2099.7C710.7,2103.3 711.8,2104.7 714.2,2105.4C716.5,2106.2 721.7,2106.4 724.6,2104.3C727.4,2102.2 730.5,2096.2 731.5,2092.7C732.5,2089.3 732.1,2084.6 730.3,2083.5C728.6,2082.3 723.8,2083.5 721.1,2085.8C718.4,2088.1 715.9,2092.9 714.2,2097.3C712.4,2101.8 711.3,2109.9 710.7,2112.4 M719.9,2128.5C722.1,2128.0 727.8,2126.0 732.6,2125.1C737.5,2124.1 746.1,2123.1 748.8,2122.8 M784.6,2103.1C784.2,2107.6 783.1,2121.4 782.3,2129.7C781.5,2138.0 780.4,2148.9 780.0,2152.8 M822.8,2118.1L823.7,2120.5 M821.6,2138.9L822.8,2142.4"/><!--L_arr216-->
<path d="M288.0,2265.5L311.2,2262.2 M280.6,2285.4C281.4,2285.0 280.0,2284.4 285.5,2282.9C291.1,2281.4 309.0,2277.4 313.7,2276.2"/><!--H2_eq-->
<path d="M435.2,2206.3C434.1,2207.7 430.6,2210.6 428.8,2214.9C427.0,2219.1 425.1,2226.2 424.5,2231.9C424.0,2237.6 423.6,2244.7 425.6,2249.0C427.5,2253.2 434.5,2256.1 436.3,2257.5 M450.1,2219.1C451.0,2218.1 453.3,2213.4 455.4,2212.7C457.6,2212.0 461.8,2212.7 462.9,2214.9C464.0,2217.0 463.4,2221.6 461.8,2225.5C460.2,2229.4 455.6,2234.6 453.3,2238.3C451.0,2242.0 447.6,2246.3 448.0,2247.9C448.3,2249.5 452.2,2248.1 455.4,2247.9C458.6,2247.7 465.2,2247.0 467.2,2246.8 M484.2,2185.0C483.9,2187.5 482.6,2195.0 482.1,2199.9C481.6,2204.9 481.2,2212.4 481.0,2214.9 M506.6,2185.0C505.6,2185.7 501.8,2186.4 500.2,2189.3C498.6,2192.1 497.4,2198.3 497.0,2202.1C496.7,2205.8 496.9,2210.4 498.1,2211.7C499.3,2212.9 502.9,2211.1 504.5,2209.5C506.1,2207.9 507.7,2204.0 507.7,2202.1C507.7,2200.1 505.0,2198.5 504.5,2197.8 M524.8,2201.0C525.6,2203.3 529.4,2209.3 530.1,2214.9C530.8,2220.4 530.6,2227.7 529.0,2234.1C527.4,2240.4 521.9,2250.0 520.5,2253.2 M580.2,2204.2C578.6,2205.6 573.3,2208.8 570.6,2212.7C567.9,2216.6 565.3,2222.3 564.2,2227.7C563.1,2233.0 563.5,2241.3 564.2,2244.7C564.9,2248.1 565.6,2247.6 568.5,2247.9C571.3,2248.3 579.1,2247.0 581.3,2246.8 M623.9,2217.0C621.8,2216.6 614.3,2214.1 611.1,2214.9C607.9,2215.6 604.9,2218.6 604.7,2221.3C604.6,2223.9 608.1,2227.7 610.1,2230.9C612.0,2234.1 615.9,2237.6 616.5,2240.4C617.0,2243.3 615.2,2246.5 613.3,2247.9C611.3,2249.3 606.3,2250.2 604.7,2249.0C603.1,2247.7 602.6,2243.6 603.7,2240.4C604.7,2237.2 607.8,2233.5 611.1,2229.8C614.5,2226.1 621.8,2220.0 623.9,2218.1 M643.1,2221.3C642.1,2222.0 638.3,2222.7 636.7,2225.5C635.1,2228.4 633.5,2234.9 633.5,2238.3C633.5,2241.7 635.1,2244.9 636.7,2245.8C638.3,2246.7 641.3,2246.0 643.1,2243.6C644.9,2241.3 647.0,2235.5 647.4,2231.9C647.7,2228.4 646.7,2223.9 645.3,2222.3C643.8,2220.7 640.1,2220.0 638.9,2222.3C637.6,2224.6 638.0,2233.9 637.8,2236.2 M668.7,2222.3C667.5,2223.2 663.0,2224.6 661.2,2227.7C659.5,2230.7 657.9,2237.1 658.1,2240.4C658.2,2243.8 660.4,2247.2 662.3,2247.9C664.3,2248.6 668.0,2247.4 669.8,2244.7C671.6,2242.0 673.0,2235.5 673.0,2231.9C673.0,2228.4 671.2,2222.7 669.8,2223.4C668.4,2224.1 665.3,2234.1 664.4,2236.2 M692.2,2224.5C690.9,2225.3 686.5,2226.8 684.7,2229.8C682.9,2232.8 681.2,2239.6 681.5,2242.6C681.9,2245.6 684.7,2247.9 686.8,2247.9C689.0,2247.9 692.7,2245.6 694.3,2242.6C695.9,2239.6 696.8,2233.0 696.4,2229.8C696.1,2226.6 693.4,2222.7 692.2,2223.4C690.9,2224.1 689.5,2232.3 689.0,2234.1 M711.4,2209.5C712.3,2211.1 715.6,2215.0 716.7,2219.1C717.8,2223.2 718.3,2229.1 717.8,2234.1C717.2,2239.0 715.6,2245.6 713.5,2249.0C711.4,2252.4 706.4,2253.4 705.0,2254.3 M509.8,2297.0C507.3,2297.0 498.3,2295.7 494.9,2297.0C491.5,2298.2 489.4,2301.4 489.6,2304.4C489.7,2307.4 494.2,2311.5 496.0,2315.1C497.7,2318.6 500.6,2322.7 500.2,2325.8C499.9,2328.8 496.3,2332.5 493.8,2333.2C491.3,2333.9 486.4,2332.7 485.3,2330.0C484.2,2327.4 485.3,2321.1 487.4,2317.2C489.6,2313.3 494.4,2309.8 498.1,2306.6C501.8,2303.4 507.9,2299.5 509.8,2298.0 M524.8,2301.2C523.9,2302.5 520.5,2305.0 519.4,2308.7C518.4,2312.4 517.7,2320.4 518.4,2323.6C519.1,2326.8 521.9,2329.0 523.7,2327.9C525.5,2326.8 528.1,2321.1 529.0,2317.2C529.9,2313.3 529.7,2307.1 529.0,2304.4C528.3,2301.8 525.5,2301.8 524.8,2301.2"/><!--H2_frac-->
<path d="M570.6,2330.0C571.6,2328.6 574.7,2324.2 576.6,2321.6C578.5,2319.0 580.5,2318.0 581.8,2314.4C583.1,2310.8 584.3,2300.5 584.6,2300.0C584.9,2299.4 583.5,2307.8 583.4,2311.2C583.3,2314.5 582.9,2318.3 583.8,2320.0C584.7,2321.7 586.8,2322.1 588.6,2321.6C590.5,2321.1 593.1,2319.1 595.0,2316.8C597.0,2314.5 598.9,2312.0 600.2,2308.0C601.6,2304.0 602.8,2292.6 603.0,2292.8C603.3,2292.9 601.8,2304.0 601.8,2308.8C601.8,2313.6 602.3,2319.1 603.0,2321.6C603.8,2324.1 604.5,2324.5 606.2,2324.0C608.0,2323.5 612.2,2319.3 613.4,2318.4 M625.5,2293.6C625.1,2295.3 623.9,2299.6 623.5,2304.0C623.0,2308.4 622.2,2317.5 622.7,2320.0C623.1,2322.5 625.7,2319.3 626.3,2319.2 M626.3,2312.0C627.7,2311.3 632.5,2309.6 635.1,2308.0C637.6,2306.4 639.7,2305.2 641.5,2302.4C643.2,2299.6 644.8,2293.0 645.5,2291.2 M645.5,2289.6C645.0,2292.1 643.2,2299.3 642.7,2304.8C642.2,2310.2 642.1,2318.5 642.7,2322.4C643.3,2326.3 644.5,2328.1 646.3,2328.0C648.1,2327.9 652.3,2322.7 653.5,2321.6 M659.1,2309.6C660.2,2309.0 662.4,2306.8 665.5,2306.0C668.6,2305.1 676.7,2302.6 677.5,2304.4C678.3,2306.2 671.6,2313.8 670.3,2316.8C669.0,2319.8 668.7,2320.9 669.5,2322.4C670.3,2323.9 672.2,2325.5 675.1,2325.6C678.1,2325.7 685.1,2323.6 687.1,2323.2 M663.9,2316.8L686.3,2314.4"/><!--H2_mhz-->
<path d="M807.5,2266.7L827.4,2264.2 M806.8,2276.7L828.6,2276.3 M881.5,2241.8C880.3,2242.5 877.2,2243.6 874.6,2246.2C872.1,2248.8 868.4,2253.2 865.9,2257.4C863.4,2261.5 860.5,2267.1 859.7,2271.1C858.9,2275.0 859.7,2278.9 861.0,2281.0C862.2,2283.1 864.3,2284.1 867.2,2283.5C870.1,2282.9 876.1,2280.0 878.4,2277.3C880.7,2274.6 881.3,2269.2 880.9,2267.3C880.5,2265.5 877.8,2265.5 875.9,2266.1C874.0,2266.7 871.1,2269.4 869.7,2271.1C868.2,2272.7 865.9,2273.6 867.2,2276.0C868.4,2278.4 875.5,2283.8 877.1,2285.4 M894.6,2279.1L896.4,2279.8 M933.1,2242.4C931.7,2242.9 927.2,2243.8 924.4,2244.9C921.6,2246.1 918.0,2246.0 916.3,2249.3C914.7,2252.6 913.5,2262.9 914.5,2264.8C915.4,2266.8 919.6,2261.3 921.9,2261.1C924.2,2260.9 926.9,2261.9 928.1,2263.6C929.4,2265.2 930.0,2268.4 929.4,2271.1C928.8,2273.8 926.5,2277.8 924.4,2279.8C922.3,2281.7 918.2,2282.4 916.9,2282.9 M965.5,2242.4C964.0,2242.4 959.7,2241.9 956.8,2242.4C953.9,2243.0 949.6,2241.6 948.0,2245.6C946.5,2249.5 946.2,2263.5 947.4,2266.1C948.7,2268.7 952.9,2261.5 955.5,2261.1C958.1,2260.7 961.5,2261.9 963.0,2263.6C964.4,2265.2 964.8,2268.8 964.2,2271.1C963.6,2273.3 961.4,2275.5 959.2,2277.3C957.1,2279.0 952.5,2280.9 951.2,2281.6 M997.8,2261.1C996.4,2261.7 991.4,2263.6 989.1,2264.8C986.8,2266.1 984.5,2267.3 984.1,2268.6C983.7,2269.8 984.5,2271.1 986.6,2272.3C988.7,2273.5 994.3,2274.6 996.6,2276.0C998.8,2277.5 1000.7,2279.8 1000.3,2281.0C999.9,2282.3 997.0,2283.6 994.1,2283.5C991.2,2283.4 984.7,2280.9 982.9,2280.4"/><!--H2_655-->
<path d="M1485.8,1663.1C1485.4,1662.3 1484.2,1659.6 1483.1,1658.5C1482.0,1657.3 1480.6,1656.0 1479.3,1656.2C1478.0,1656.3 1476.5,1656.4 1475.4,1659.2C1474.4,1662.1 1473.6,1666.9 1473.1,1673.1C1472.6,1679.3 1472.6,1687.2 1472.3,1696.2C1472.1,1705.2 1472.0,1718.7 1471.6,1727.0C1471.2,1735.4 1471.1,1741.3 1470.0,1746.3C1469.0,1751.3 1467.1,1756.0 1465.4,1757.0C1463.7,1758.1 1461.6,1754.5 1460.0,1752.4C1458.5,1750.4 1456.8,1746.0 1456.2,1744.7 M1445.8,1700.8C1446.7,1700.3 1448.7,1698.6 1451.6,1697.7C1454.4,1696.8 1459.4,1696.1 1463.1,1695.4C1466.8,1694.8 1471.8,1694.2 1473.5,1693.9 M1489.3,1709.3C1489.5,1712.3 1490.4,1721.4 1490.8,1727.0C1491.2,1732.7 1491.2,1743.2 1491.6,1743.2C1492.0,1743.2 1492.4,1731.9 1493.1,1727.0C1493.9,1722.1 1495.3,1716.4 1496.2,1713.9C1497.1,1711.5 1497.8,1710.2 1498.5,1712.4C1499.2,1714.6 1500.1,1722.6 1500.5,1727.0C1500.8,1731.4 1500.0,1738.6 1500.5,1738.6C1500.9,1738.6 1501.9,1730.9 1503.1,1727.0C1504.4,1723.2 1506.4,1718.0 1507.8,1715.5C1509.2,1712.9 1510.7,1711.4 1511.6,1711.6C1512.6,1711.9 1513.2,1713.8 1513.5,1717.0C1513.9,1720.2 1513.5,1727.3 1513.9,1730.9C1514.4,1734.5 1515.1,1737.2 1516.2,1738.6C1517.4,1740.0 1519.5,1739.7 1520.9,1739.3C1522.3,1738.9 1524.1,1736.8 1524.7,1736.3 M1532.4,1709.3C1531.8,1710.3 1529.8,1712.5 1528.6,1715.5C1527.3,1718.4 1525.4,1722.6 1524.7,1727.0C1524.0,1731.4 1523.9,1739.1 1524.3,1741.6C1524.7,1744.2 1525.7,1743.6 1527.0,1742.4C1528.4,1741.3 1531.3,1738.6 1532.4,1734.7C1533.5,1730.9 1533.4,1723.4 1533.6,1719.3C1533.8,1715.2 1533.2,1707.5 1533.6,1710.1C1533.9,1712.6 1534.8,1728.4 1535.5,1734.7C1536.2,1741.0 1536.8,1745.1 1537.8,1747.8C1538.8,1750.5 1540.2,1750.5 1541.7,1750.9C1543.1,1751.3 1545.5,1750.2 1546.3,1750.1 M1561.3,1717.8C1560.3,1718.0 1557.8,1717.8 1555.5,1719.3C1553.3,1720.9 1550.4,1723.4 1547.8,1727.0C1545.2,1730.6 1541.1,1738.6 1539.7,1740.9 M1537.8,1728.6C1538.8,1727.0 1542.2,1722.4 1544.0,1719.3C1545.8,1716.2 1547.3,1711.4 1548.6,1710.1C1549.9,1708.8 1550.5,1709.0 1551.7,1711.6C1552.8,1714.2 1554.1,1720.5 1555.5,1725.5C1556.9,1730.5 1558.6,1738.9 1560.1,1741.6C1561.7,1744.3 1564.0,1741.6 1564.8,1741.6"/><!--R_fmax1-->
<path d="M1447.7,1809.0C1447.3,1808.2 1446.1,1805.5 1445.0,1804.4C1443.9,1803.2 1442.5,1801.9 1441.2,1802.1C1439.9,1802.2 1438.4,1802.3 1437.3,1805.1C1436.3,1808.0 1435.5,1812.8 1435.0,1819.0C1434.5,1825.2 1434.5,1833.1 1434.2,1842.1C1434.0,1851.1 1433.9,1864.6 1433.5,1872.9C1433.1,1881.3 1433.0,1887.2 1431.9,1892.2C1430.9,1897.2 1429.0,1901.9 1427.3,1902.9C1425.6,1904.0 1423.5,1900.4 1421.9,1898.3C1420.4,1896.3 1418.7,1891.9 1418.1,1890.6 M1407.7,1846.7C1408.6,1846.2 1410.6,1844.5 1413.5,1843.6C1416.3,1842.7 1421.3,1842.0 1425.0,1841.3C1428.7,1840.7 1433.7,1840.1 1435.4,1839.8 M1451.2,1855.2C1451.4,1858.2 1452.3,1867.3 1452.7,1872.9C1453.1,1878.6 1453.1,1889.1 1453.5,1889.1C1453.9,1889.1 1454.3,1877.8 1455.0,1872.9C1455.8,1868.0 1457.2,1862.3 1458.1,1859.8C1459.0,1857.4 1459.7,1856.1 1460.4,1858.3C1461.1,1860.5 1462.0,1868.5 1462.4,1872.9C1462.7,1877.3 1461.9,1884.5 1462.4,1884.5C1462.8,1884.5 1463.8,1876.8 1465.0,1872.9C1466.3,1869.1 1468.3,1863.9 1469.7,1861.4C1471.1,1858.8 1472.6,1857.3 1473.5,1857.5C1474.5,1857.8 1475.1,1859.7 1475.4,1862.9C1475.8,1866.1 1475.4,1873.2 1475.8,1876.8C1476.3,1880.4 1477.0,1883.1 1478.1,1884.5C1479.3,1885.9 1481.4,1885.6 1482.8,1885.2C1484.2,1884.8 1486.0,1882.7 1486.6,1882.2 M1494.3,1855.2C1493.7,1856.2 1491.7,1858.4 1490.5,1861.4C1489.2,1864.3 1487.3,1868.5 1486.6,1872.9C1485.9,1877.3 1485.8,1885.0 1486.2,1887.5C1486.6,1890.1 1487.6,1889.5 1488.9,1888.3C1490.3,1887.2 1493.2,1884.5 1494.3,1880.6C1495.4,1876.8 1495.3,1869.3 1495.5,1865.2C1495.7,1861.1 1495.1,1853.4 1495.5,1856.0C1495.8,1858.5 1496.7,1874.3 1497.4,1880.6C1498.1,1886.9 1498.7,1891.0 1499.7,1893.7C1500.7,1896.4 1502.1,1896.4 1503.6,1896.8C1505.0,1897.2 1507.4,1896.1 1508.2,1896.0 M1523.2,1863.7C1522.2,1863.9 1519.7,1863.7 1517.4,1865.2C1515.2,1866.8 1512.3,1869.3 1509.7,1872.9C1507.1,1876.5 1503.0,1884.5 1501.6,1886.8 M1499.7,1874.5C1500.7,1872.9 1504.1,1868.3 1505.9,1865.2C1507.7,1862.1 1509.2,1857.3 1510.5,1856.0C1511.8,1854.7 1512.4,1854.9 1513.6,1857.5C1514.7,1860.1 1516.0,1866.4 1517.4,1871.4C1518.8,1876.4 1520.5,1884.8 1522.0,1887.5C1523.6,1890.2 1525.9,1887.5 1526.7,1887.5"/><!--R_fmax2-->
<path d="M1592.7,1846.2C1593.0,1845.9 1590.5,1844.5 1594.8,1844.7C1599.1,1845.0 1614.3,1847.1 1618.3,1847.6 M1582.7,1869.6L1624.7,1864.6"/><!--R_fmax_eq-->
<path d="M1862.1,1793.0C1860.8,1792.6 1858.2,1790.9 1854.4,1790.5C1850.5,1790.0 1842.6,1789.3 1838.9,1790.5C1835.2,1791.6 1832.3,1794.2 1832.0,1797.3C1831.7,1800.5 1834.6,1805.4 1837.2,1809.4C1839.8,1813.4 1845.3,1817.4 1847.5,1821.4C1849.6,1825.4 1850.9,1830.8 1850.1,1833.4C1849.2,1836.0 1845.1,1837.1 1842.3,1836.8C1839.6,1836.6 1835.0,1834.8 1833.7,1831.7C1832.5,1828.5 1832.6,1822.5 1834.6,1818.0C1836.6,1813.4 1841.6,1808.1 1845.8,1804.2C1849.9,1800.3 1857.2,1796.3 1859.5,1794.8 M1879.3,1792.2C1878.0,1793.6 1873.5,1796.5 1871.5,1800.8C1869.5,1805.1 1867.5,1812.4 1867.2,1818.0C1867.0,1823.5 1868.0,1831.4 1869.8,1834.3C1871.7,1837.1 1875.7,1837.3 1878.4,1835.1C1881.1,1833.0 1884.7,1826.5 1886.1,1821.4C1887.6,1816.2 1887.7,1808.8 1887.0,1804.2C1886.3,1799.6 1883.4,1795.0 1881.8,1793.9C1880.3,1792.8 1877.8,1795.2 1877.6,1797.3C1877.3,1799.5 1879.7,1805.2 1880.1,1806.8 M1936.0,1830.3C1936.4,1829.7 1936.1,1832.9 1938.5,1826.5C1941.0,1820.2 1948.9,1793.9 1950.6,1792.2C1952.3,1790.5 1948.3,1810.6 1948.9,1816.2C1949.4,1821.8 1951.1,1824.8 1954.0,1825.7C1956.9,1826.5 1962.3,1826.8 1966.0,1821.4C1969.8,1815.9 1974.3,1793.6 1976.3,1793.0C1978.3,1792.5 1977.1,1811.9 1978.1,1818.0C1979.1,1824.0 1980.1,1828.4 1982.4,1829.1C1984.6,1829.8 1990.2,1823.4 1991.8,1822.2 M2008.1,1788.7C2008.7,1788.5 2011.7,1785.0 2011.6,1787.0C2011.4,1789.0 2008.4,1793.6 2007.3,1800.8C2006.1,1807.9 2004.1,1825.1 2004.7,1830.0C2005.3,1834.8 2009.7,1830.0 2010.7,1830.0 M2011.6,1807.6C2014.0,1807.2 2022.0,1806.8 2026.2,1805.1C2030.3,1803.3 2033.9,1801.2 2036.5,1797.3C2039.0,1793.5 2040.8,1784.4 2041.6,1781.9 M2041.6,1781.0C2040.8,1785.2 2037.5,1798.3 2036.5,1805.9C2035.5,1813.5 2035.0,1822.5 2035.6,1826.5C2036.2,1830.5 2038.0,1829.7 2039.9,1830.0C2041.8,1830.3 2045.6,1828.5 2046.8,1828.3 M2058.8,1808.5C2059.2,1807.5 2059.1,1804.3 2061.4,1802.5C2063.7,1800.6 2069.0,1798.2 2072.5,1797.3C2076.1,1796.5 2080.6,1796.5 2082.9,1797.3C2085.1,1798.2 2088.3,1797.6 2086.3,1802.5C2084.3,1807.4 2072.5,1821.4 2070.8,1826.5C2069.1,1831.7 2073.1,1833.1 2076.0,1833.4C2078.8,1833.7 2086.0,1829.1 2088.0,1828.3 M2057.1,1818.0C2059.7,1817.5 2067.0,1815.2 2072.5,1815.4C2078.1,1815.5 2087.6,1818.2 2090.6,1818.8"/><!--R_80mhz1-->
<path d="M1835.5,1867.2C1832.3,1869.9 1821.3,1877.0 1816.5,1883.7C1811.8,1890.5 1808.5,1901.1 1807.1,1907.4C1805.6,1913.8 1806.4,1918.1 1808.0,1921.7C1809.6,1925.2 1812.7,1928.0 1816.5,1928.8C1820.3,1929.6 1828.4,1926.8 1830.8,1926.4 M1873.4,1876.6C1872.5,1881.8 1868.9,1899.5 1867.7,1907.4C1866.5,1915.3 1865.4,1922.4 1866.3,1924.0C1867.3,1925.6 1872.2,1918.1 1873.4,1916.9 M1906.6,1867.2C1908.6,1870.7 1916.9,1881.0 1918.4,1888.5C1920.0,1896.0 1918.8,1905.2 1916.1,1912.2C1913.3,1919.1 1904.2,1927.2 1901.8,1930.2 M1965.8,1864.8C1963.9,1867.9 1956.4,1875.8 1954.0,1883.7C1951.6,1891.6 1950.8,1904.7 1951.6,1912.2C1952.4,1919.7 1954.4,1925.6 1958.7,1928.8C1963.1,1931.9 1974.5,1930.7 1977.7,1931.1 M2060.6,1883.7C2055.5,1883.7 2036.1,1881.8 2029.8,1883.7C2023.5,1885.7 2021.1,1891.6 2022.7,1895.6C2024.3,1899.5 2034.2,1903.9 2039.3,1907.4C2044.4,1911.0 2052.3,1912.6 2053.5,1916.9C2054.7,1921.3 2051.1,1931.5 2046.4,1933.5C2041.7,1935.5 2028.2,1932.3 2025.1,1928.8C2021.9,1925.2 2022.7,1917.3 2027.4,1912.2C2032.2,1907.0 2048.0,1902.3 2053.5,1898.0C2059.0,1893.6 2059.4,1888.1 2060.6,1886.1 M2074.8,1879.0C2076.8,1882.2 2084.7,1890.9 2086.7,1898.0C2088.7,1905.1 2089.1,1915.7 2086.7,1921.7C2084.3,1927.6 2074.8,1931.5 2072.5,1933.5"/><!--R_18-->
<path d="M1450.4,1987.0C1450.1,1984.9 1450.1,1978.7 1448.6,1974.5C1447.2,1970.4 1443.3,1962.7 1441.5,1962.1C1439.8,1961.5 1438.9,1966.3 1438.0,1971.0C1437.1,1975.7 1436.7,1982.8 1436.2,1990.5C1435.8,1998.2 1435.8,2008.9 1435.3,2017.2C1434.9,2025.5 1434.6,2033.8 1433.5,2040.3C1432.5,2046.8 1430.9,2052.9 1429.1,2056.3C1427.3,2059.7 1424.4,2061.0 1422.9,2060.7C1421.4,2060.4 1420.8,2056.7 1420.2,2054.5C1419.6,2052.3 1419.5,2048.6 1419.3,2047.4 M1406.9,2011.0C1407.9,2010.4 1409.4,2008.2 1413.1,2007.4C1416.8,2006.7 1422.6,2006.5 1429.1,2006.5C1435.6,2006.5 1448.3,2007.3 1452.2,2007.4 M1628.1,2022.5L1646.8,2018.1 M1621.0,2036.7L1659.2,2032.3"/><!--H3_fmax-->
<path d="M1454.2,2018.5C1454.4,2020.7 1455.0,2027.0 1455.4,2032.0C1455.8,2036.9 1456.4,2045.4 1456.6,2048.1 M1457.3,2037.3C1458.3,2035.2 1461.0,2027.7 1463.1,2024.3C1465.2,2020.8 1468.5,2017.2 1470.0,2016.6C1471.6,2015.9 1471.9,2017.2 1472.3,2020.4C1472.8,2023.6 1472.7,2032.1 1472.7,2035.8C1472.7,2039.5 1472.4,2041.6 1472.3,2042.7 M1473.1,2035.8C1474.3,2033.9 1477.9,2027.5 1480.0,2024.3C1482.2,2021.0 1484.7,2017.5 1486.2,2016.6C1487.7,2015.7 1488.6,2016.9 1489.3,2018.9C1489.9,2020.8 1489.8,2024.9 1490.1,2028.1C1490.3,2031.3 1490.2,2035.7 1490.8,2038.1C1491.5,2040.6 1492.5,2041.9 1493.9,2042.7C1495.3,2043.6 1497.4,2043.6 1499.3,2043.1C1501.2,2042.6 1504.4,2040.2 1505.5,2039.7 M1517.0,2021.2C1516.5,2020.9 1515.2,2019.4 1513.9,2019.6C1512.6,2019.9 1511.1,2020.9 1509.3,2022.7C1507.5,2024.5 1504.6,2027.7 1503.1,2030.4C1501.7,2033.1 1500.7,2037.1 1500.8,2038.9C1501.0,2040.7 1502.3,2041.7 1503.9,2041.2C1505.6,2040.7 1508.8,2038.5 1510.9,2035.8C1512.9,2033.1 1515.1,2027.5 1516.2,2025.0C1517.4,2022.6 1517.3,2019.4 1517.8,2021.2C1518.3,2023.0 1518.7,2032.3 1519.3,2035.8C1520.0,2039.3 1520.6,2041.1 1521.6,2042.0C1522.7,2042.9 1524.8,2041.3 1525.5,2041.2 M1532.0,2031.2C1532.0,2030.4 1531.2,2028.4 1531.6,2026.6C1532.1,2024.8 1533.3,2022.5 1534.7,2020.4C1536.1,2018.3 1538.6,2015.1 1540.1,2014.2C1541.7,2013.3 1542.8,2012.7 1544.0,2015.0C1545.1,2017.3 1546.1,2024.3 1547.0,2028.1C1547.9,2032.0 1548.2,2035.3 1549.4,2038.1C1550.5,2040.9 1552.1,2043.6 1554.0,2045.0C1555.9,2046.5 1559.2,2047.0 1560.9,2046.6C1562.6,2046.2 1563.8,2043.4 1564.4,2042.7 M1565.5,2016.9C1564.5,2017.3 1561.7,2017.4 1559.4,2018.9C1557.1,2020.3 1554.0,2023.1 1551.7,2025.8C1549.4,2028.5 1547.3,2032.2 1545.5,2035.0C1543.7,2037.9 1541.7,2041.5 1540.9,2042.7"/><!--H3_max-->
<path d="M1735.0,1991.6C1734.2,1994.1 1731.5,1999.3 1730.1,2006.3C1728.6,2013.3 1727.0,2027.3 1726.2,2033.7C1725.4,2040.0 1724.7,2042.9 1725.2,2044.4C1725.7,2045.9 1728.4,2042.8 1729.1,2042.4 M1764.3,2010.2C1766.2,2008.6 1772.1,2001.7 1776.0,2000.4C1779.9,1999.1 1785.0,1999.4 1787.8,2002.4C1790.5,2005.3 1792.6,2012.5 1792.6,2018.0C1792.6,2023.6 1790.8,2031.2 1787.8,2035.6C1784.7,2040.0 1778.1,2043.8 1774.1,2044.4C1770.0,2045.1 1765.4,2042.9 1763.3,2039.5C1761.2,2036.1 1761.2,2028.6 1761.4,2023.9C1761.5,2019.2 1762.5,2012.3 1764.3,2011.2C1766.1,2010.0 1770.5,2015.1 1772.1,2017.0C1773.7,2019.0 1773.7,2021.9 1774.1,2022.9 M1840.5,2042.4C1842.5,2040.7 1849.0,2035.8 1852.3,2031.7C1855.5,2027.6 1858.3,2022.4 1860.1,2018.0C1861.9,2013.6 1862.7,2004.7 1863.0,2005.3C1863.3,2006.0 1861.6,2017.2 1862.0,2021.9C1862.5,2026.6 1863.7,2032.0 1866.0,2033.7C1868.2,2035.3 1872.6,2034.3 1875.7,2031.7C1878.8,2029.1 1882.2,2023.1 1884.5,2018.0C1886.8,2013.0 1888.9,2000.7 1889.4,2001.4C1889.9,2002.0 1887.6,2015.9 1887.5,2021.9C1887.3,2027.9 1886.8,2035.0 1888.4,2037.6C1890.1,2040.2 1895.8,2037.6 1897.2,2037.6 M1918.7,1999.4C1918.4,2003.5 1916.9,2017.0 1916.8,2023.9C1916.6,2030.7 1916.9,2037.9 1917.8,2040.5C1918.6,2043.1 1921.0,2039.7 1921.7,2039.5 M1923.6,2020.0C1925.7,2019.8 1932.3,2020.0 1936.3,2019.0C1940.4,2018.0 1945.5,2017.8 1948.1,2014.1C1950.7,2010.4 1951.3,1999.4 1952.0,1996.5 M1952.0,1996.5C1951.5,2000.4 1949.4,2012.3 1949.0,2020.0C1948.7,2027.6 1948.9,2038.5 1950.0,2042.4C1951.2,2046.4 1953.6,2043.6 1955.9,2043.4C1958.2,2043.3 1962.4,2041.8 1963.7,2041.5 M1969.6,2021.9C1970.5,2020.8 1971.5,2016.9 1975.4,2015.1C1979.3,2013.3 1989.8,2011.3 1993.0,2011.2C1996.3,2011.0 1997.3,2010.7 1995.0,2014.1C1992.7,2017.5 1982.0,2027.1 1979.3,2031.7C1976.7,2036.3 1977.4,2039.4 1979.3,2041.5C1981.3,2043.6 1987.3,2044.2 1991.1,2044.4C1994.8,2044.6 2000.0,2042.8 2001.8,2042.4 M1962.7,2032.7C1966.1,2032.5 1976.4,2032.0 1983.3,2031.7C1990.1,2031.4 2000.4,2030.9 2003.8,2030.7"/><!--H3_10mhz-->
<path d="M1460.5,2276.5C1460.3,2274.3 1460.0,2266.4 1458.9,2263.3C1457.8,2260.1 1455.7,2256.6 1453.9,2257.5C1452.1,2258.3 1449.5,2262.6 1448.1,2268.2C1446.7,2273.9 1446.2,2283.4 1445.6,2291.5C1445.1,2299.5 1444.8,2306.9 1444.8,2316.3C1444.8,2325.7 1446.2,2342.3 1445.6,2347.9C1445.1,2353.4 1444.0,2352.1 1441.5,2349.5C1439.0,2346.9 1432.5,2335.0 1430.7,2332.1 M1421.6,2302.2C1423.5,2301.6 1427.5,2299.2 1433.2,2298.1C1438.8,2297.0 1451.8,2296.0 1455.6,2295.6 M1458.9,2316.3C1459.2,2318.6 1460.1,2324.9 1460.5,2329.6C1461.0,2334.3 1460.9,2344.8 1461.7,2344.5C1462.5,2344.3 1463.6,2333.1 1465.5,2328.0C1467.4,2322.8 1471.0,2315.5 1473.0,2313.9C1474.9,2312.2 1476.4,2315.4 1477.1,2318.0C1477.8,2320.6 1477.3,2325.5 1477.1,2329.6C1477.0,2333.8 1475.6,2343.2 1476.3,2342.9C1477.0,2342.6 1479.3,2332.2 1481.3,2328.0C1483.2,2323.7 1486.1,2318.6 1487.9,2317.2C1489.7,2315.8 1490.9,2317.6 1492.1,2319.7C1493.2,2321.7 1494.0,2326.1 1494.5,2329.6C1495.1,2333.2 1495.2,2339.0 1495.4,2340.9 M1509.1,2300.6L1506.2,2309.7 M1503.7,2319.7C1504.1,2321.9 1505.5,2328.8 1506.2,2332.9C1506.8,2337.1 1507.5,2342.6 1507.8,2344.5 M1518.1,2319.7C1518.6,2321.9 1520.2,2328.2 1521.1,2332.9C1522.0,2337.6 1522.5,2348.1 1523.6,2347.9C1524.7,2347.6 1525.6,2336.2 1527.7,2331.3C1529.8,2326.3 1533.5,2320.9 1536.0,2318.0C1538.5,2315.1 1541.0,2313.3 1542.6,2313.9C1544.3,2314.4 1545.1,2317.9 1546.0,2321.3C1546.8,2324.8 1547.1,2330.6 1547.6,2334.6C1548.2,2338.6 1548.3,2343.7 1549.3,2345.4C1550.2,2347.0 1552.7,2344.7 1553.4,2344.5"/><!--R_fmin2-->
<path d="M1595.7,2302.2L1619.8,2301.4 M1591.6,2317.2C1591.9,2316.9 1587.2,2315.7 1593.2,2315.5C1599.3,2315.4 1622.3,2316.2 1628.1,2316.3"/><!--R_fmin2_eq-->
<path d="M1483.0,2117.3C1482.8,2115.1 1482.5,2107.2 1481.4,2104.1C1480.3,2100.9 1478.2,2097.4 1476.4,2098.3C1474.6,2099.1 1472.0,2103.4 1470.6,2109.0C1469.2,2114.7 1468.7,2124.2 1468.1,2132.3C1467.6,2140.3 1467.3,2147.7 1467.3,2157.1C1467.3,2166.5 1468.7,2183.1 1468.1,2188.7C1467.6,2194.2 1466.5,2192.9 1464.0,2190.3C1461.5,2187.7 1455.0,2175.8 1453.2,2172.9 M1444.1,2143.0C1446.0,2142.4 1450.0,2140.0 1455.7,2138.9C1461.3,2137.8 1474.3,2136.8 1478.1,2136.4 M1481.4,2157.1C1481.7,2159.4 1482.6,2165.7 1483.0,2170.4C1483.5,2175.1 1483.4,2185.6 1484.2,2185.3C1485.0,2185.1 1486.1,2173.9 1488.0,2168.8C1489.9,2163.6 1493.5,2156.3 1495.5,2154.7C1497.4,2153.0 1498.9,2156.2 1499.6,2158.8C1500.3,2161.4 1499.8,2166.3 1499.6,2170.4C1499.5,2174.6 1498.1,2184.0 1498.8,2183.7C1499.5,2183.4 1501.8,2173.0 1503.8,2168.8C1505.7,2164.5 1508.6,2159.4 1510.4,2158.0C1512.2,2156.6 1513.4,2158.4 1514.6,2160.5C1515.7,2162.5 1516.5,2166.9 1517.0,2170.4C1517.6,2174.0 1517.7,2179.8 1517.9,2181.7 M1531.6,2141.4L1528.7,2150.5 M1526.2,2160.5C1526.6,2162.7 1528.0,2169.6 1528.7,2173.7C1529.3,2177.9 1530.0,2183.4 1530.3,2185.3 M1540.6,2160.5C1541.1,2162.7 1542.7,2169.0 1543.6,2173.7C1544.5,2178.4 1545.0,2188.9 1546.1,2188.7C1547.2,2188.4 1548.1,2177.0 1550.2,2172.1C1552.3,2167.1 1556.0,2161.7 1558.5,2158.8C1561.0,2155.9 1563.5,2154.1 1565.1,2154.7C1566.8,2155.2 1567.6,2158.7 1568.5,2162.1C1569.3,2165.6 1569.6,2171.4 1570.1,2175.4C1570.7,2179.4 1570.8,2184.5 1571.8,2186.2C1572.7,2187.8 1575.2,2185.5 1575.9,2185.3"/><!--R_fmin1-->
<path d="M1632.8,2161.2C1632.5,2162.9 1631.1,2167.9 1630.9,2171.2C1630.7,2174.4 1630.5,2179.7 1631.4,2180.7C1632.2,2181.6 1634.2,2179.6 1636.1,2176.9C1638.0,2174.2 1641.2,2168.0 1642.7,2164.5C1644.2,2161.1 1644.9,2155.9 1645.1,2156.0C1645.4,2156.2 1644.1,2162.0 1644.2,2165.5C1644.2,2169.0 1644.7,2174.1 1645.6,2176.9C1646.5,2179.6 1648.0,2181.5 1649.4,2182.1C1650.8,2182.7 1652.5,2182.2 1654.1,2180.7C1655.7,2179.2 1657.6,2176.6 1658.9,2173.1C1660.1,2169.6 1661.4,2163.9 1661.7,2159.8C1662.0,2155.7 1661.4,2149.2 1660.8,2148.4C1660.1,2147.6 1658.4,2154.0 1657.9,2155.1 M1675.9,2126.2C1675.8,2129.9 1675.4,2139.4 1675.0,2148.4C1674.6,2157.4 1673.8,2174.9 1673.6,2180.2 M1674.0,2171.2C1674.8,2169.8 1677.0,2163.9 1678.8,2162.7C1680.5,2161.4 1682.2,2161.9 1684.5,2163.6C1686.7,2165.3 1689.2,2170.4 1692.0,2173.1C1694.9,2175.8 1699.3,2179.1 1701.5,2179.7C1703.7,2180.3 1703.4,2178.6 1705.3,2176.9C1707.2,2175.1 1710.4,2171.8 1712.9,2169.3C1715.4,2166.8 1719.3,2160.3 1720.5,2161.7C1721.7,2163.1 1718.6,2176.9 1720.0,2177.8C1721.4,2178.8 1725.8,2170.6 1729.0,2167.4C1732.2,2164.2 1737.1,2159.7 1739.4,2158.9C1741.8,2158.1 1742.4,2160.0 1743.2,2162.7C1744.0,2165.3 1742.6,2173.0 1744.2,2175.0C1745.8,2177.0 1751.3,2174.6 1752.7,2174.5 M1701.5,2179.7C1701.0,2177.7 1698.4,2171.3 1698.7,2167.4C1699.0,2163.4 1701.8,2157.8 1703.4,2156.0C1705.0,2154.3 1707.4,2155.5 1708.2,2157.0C1708.9,2158.4 1708.9,2161.5 1708.2,2164.5C1707.4,2167.6 1703.9,2172.9 1703.4,2175.0C1702.9,2177.0 1705.0,2176.6 1705.3,2176.9"/><!--R_when2-->
<path d="M302.8,2128.1C302.5,2129.8 301.1,2134.8 300.9,2138.1C300.7,2141.3 300.5,2146.6 301.4,2147.6C302.2,2148.5 304.2,2146.5 306.1,2143.8C308.0,2141.1 311.2,2134.9 312.7,2131.4C314.2,2128.0 314.9,2122.8 315.1,2122.9C315.4,2123.1 314.1,2128.9 314.2,2132.4C314.2,2135.9 314.7,2141.0 315.6,2143.8C316.5,2146.5 318.0,2148.4 319.4,2149.0C320.8,2149.6 322.5,2149.1 324.1,2147.6C325.7,2146.1 327.6,2143.5 328.9,2140.0C330.1,2136.5 331.4,2130.8 331.7,2126.7C332.0,2122.6 331.4,2116.1 330.8,2115.3C330.1,2114.5 328.4,2120.9 327.9,2122.0 M345.9,2093.1C345.8,2096.8 345.4,2106.3 345.0,2115.3C344.6,2124.3 343.8,2141.8 343.6,2147.1 M344.0,2138.1C344.8,2136.7 347.0,2130.8 348.8,2129.6C350.5,2128.3 352.2,2128.8 354.5,2130.5C356.7,2132.2 359.2,2137.3 362.0,2140.0C364.9,2142.7 369.3,2146.0 371.5,2146.6C373.7,2147.2 373.4,2145.5 375.3,2143.8C377.2,2142.0 380.4,2138.7 382.9,2136.2C385.4,2133.7 389.3,2127.2 390.5,2128.6C391.7,2130.0 388.6,2143.8 390.0,2144.7C391.4,2145.7 395.8,2137.5 399.0,2134.3C402.2,2131.1 407.1,2126.6 409.4,2125.8C411.8,2125.0 412.4,2126.9 413.2,2129.6C414.0,2132.2 412.6,2139.9 414.2,2141.9C415.8,2143.9 421.3,2141.5 422.7,2141.4 M371.5,2146.6C371.0,2144.6 368.4,2138.2 368.7,2134.3C369.0,2130.3 371.8,2124.7 373.4,2122.9C375.0,2121.2 377.4,2122.4 378.2,2123.9C378.9,2125.3 378.9,2128.4 378.2,2131.4C377.4,2134.5 373.9,2139.8 373.4,2141.9C372.9,2143.9 375.0,2143.5 375.3,2143.8"/><!--L_when2-->
<path d="M1812.7,2184.3C1814.6,2181.1 1820.2,2172.0 1824.3,2164.7C1828.3,2157.4 1834.7,2140.1 1837.0,2140.4C1839.3,2140.8 1837.7,2158.7 1838.1,2167.0C1838.5,2175.3 1839.1,2186.3 1839.3,2190.1 M1812.7,2158.9C1815.8,2158.4 1824.3,2156.8 1831.2,2155.5C1838.1,2154.1 1850.4,2151.6 1854.3,2150.8 M1858.9,2143.9C1858.5,2147.8 1857.2,2159.9 1856.6,2167.0C1856.0,2174.1 1855.6,2183.4 1855.5,2186.7 M1855.5,2146.2C1857.2,2145.6 1862.6,2142.6 1865.8,2142.8C1869.1,2142.9 1874.3,2144.9 1875.1,2147.4C1875.9,2149.9 1872.8,2154.5 1870.5,2157.8C1868.2,2161.0 1863.2,2163.7 1861.2,2167.0C1859.3,2170.3 1856.2,2176.3 1858.9,2177.4C1861.6,2178.6 1872.0,2175.7 1877.4,2173.9C1882.8,2172.2 1889.0,2168.2 1891.3,2167.0 M1894.7,2146.2C1894.2,2149.7 1892.0,2160.1 1891.3,2167.0C1890.5,2173.9 1890.3,2184.3 1890.1,2187.8 M1891.3,2146.2C1892.8,2145.5 1897.8,2142.0 1900.5,2141.6C1903.2,2141.2 1906.7,2141.6 1907.4,2143.9C1908.2,2146.2 1906.3,2151.6 1905.1,2155.5C1904.0,2159.3 1901.7,2163.2 1900.5,2167.0C1899.4,2170.9 1895.9,2177.0 1898.2,2178.6C1900.5,2180.1 1910.1,2177.2 1914.4,2176.3C1918.6,2175.3 1922.1,2173.4 1923.6,2172.8 M1930.5,2150.8L1951.3,2149.7 M1928.2,2171.6C1929.8,2171.3 1933.8,2170.1 1937.5,2169.3C1941.1,2168.6 1948.1,2167.4 1950.2,2167.0 M1992.9,2143.9C1993.7,2142.8 1995.2,2138.5 1997.5,2137.0C1999.9,2135.4 2004.5,2133.5 2006.8,2134.7C2009.1,2135.8 2011.8,2139.7 2011.4,2143.9C2011.0,2148.1 2007.6,2155.1 2004.5,2160.1C2001.4,2165.1 1996.2,2170.1 1992.9,2173.9C1989.7,2177.8 1984.8,2181.5 1984.8,2183.2C1984.8,2184.9 1988.9,2184.9 1992.9,2184.3C1997.0,2183.8 2004.3,2181.6 2009.1,2179.7C2013.9,2177.8 2019.7,2173.9 2021.8,2172.8 M2029.9,2100.0C2029.5,2103.5 2028.2,2114.3 2027.6,2120.8C2027.0,2127.4 2026.6,2136.2 2026.4,2139.3 M2059.9,2101.2C2058.4,2101.6 2053.4,2101.0 2050.7,2103.5C2048.0,2106.0 2045.5,2111.4 2043.8,2116.2C2042.0,2121.0 2040.3,2128.7 2040.3,2132.4C2040.3,2136.0 2041.4,2137.4 2043.8,2138.1C2046.1,2138.9 2051.3,2139.1 2054.2,2137.0C2057.0,2134.9 2060.1,2128.9 2061.1,2125.4C2062.1,2122.0 2061.7,2117.3 2059.9,2116.2C2058.2,2115.0 2053.4,2116.2 2050.7,2118.5C2048.0,2120.8 2045.5,2125.6 2043.8,2130.0C2042.0,2134.5 2040.9,2142.6 2040.3,2145.1 M2049.5,2161.2C2051.7,2160.7 2057.4,2158.7 2062.2,2157.8C2067.1,2156.8 2075.7,2155.8 2078.4,2155.5 M2114.2,2135.8C2113.8,2140.3 2112.7,2154.1 2111.9,2162.4C2111.1,2170.7 2110.0,2181.6 2109.6,2185.5 M2152.4,2150.8L2153.3,2153.2 M2151.2,2171.6L2152.4,2175.1"/><!--R_arr216-->
<path d="M1879.5,2272.6C1880.6,2271.0 1885.1,2265.9 1885.9,2262.5C1886.7,2259.2 1886.8,2254.0 1884.1,2252.4C1881.3,2250.9 1873.8,2251.4 1869.4,2253.4C1864.9,2255.4 1859.0,2260.1 1857.4,2264.4C1855.9,2268.7 1857.0,2275.1 1860.2,2279.1C1863.4,2283.1 1872.0,2285.5 1876.7,2288.3C1881.5,2291.0 1887.4,2293.6 1888.7,2295.6C1889.9,2297.6 1888.2,2299.4 1884.1,2300.2C1879.9,2301.0 1868.3,2301.9 1863.9,2300.2C1859.4,2298.5 1857.4,2293.9 1857.4,2290.1C1857.4,2286.3 1859.1,2281.8 1863.9,2277.2C1868.6,2272.6 1882.2,2265.0 1885.9,2262.5 M1913.5,2270.8C1913.0,2269.1 1910.1,2263.5 1910.7,2260.7C1911.3,2258.0 1914.2,2255.0 1917.1,2254.3C1920.0,2253.5 1924.8,2253.2 1928.2,2256.1C1931.5,2259.0 1936.1,2266.4 1937.3,2271.7C1938.6,2277.1 1937.9,2284.1 1935.5,2288.3C1933.1,2292.4 1926.9,2295.6 1922.6,2296.5C1918.4,2297.4 1912.7,2296.7 1909.8,2293.8C1906.9,2290.9 1905.4,2284.6 1905.2,2279.1C1905.0,2273.6 1906.3,2264.4 1908.9,2260.7C1911.5,2257.0 1918.8,2257.7 1920.8,2257.0 M1986.0,2291.0C1987.7,2289.6 1992.9,2286.0 1996.1,2282.8C1999.3,2279.5 2002.8,2275.9 2005.3,2271.7C2007.7,2267.6 2010.6,2257.0 2010.8,2258.0C2011.0,2258.9 2006.8,2272.2 2006.2,2277.2C2005.6,2282.3 2005.4,2286.7 2007.1,2288.3C2008.8,2289.8 2012.9,2289.2 2016.3,2286.4C2019.7,2283.7 2024.3,2276.9 2027.3,2271.7C2030.4,2266.5 2033.8,2254.6 2034.7,2255.2C2035.6,2255.8 2032.8,2269.3 2032.8,2275.4C2032.8,2281.5 2032.8,2289.5 2034.7,2291.9C2036.5,2294.4 2042.3,2290.4 2043.9,2290.1 M2072.3,2253.4C2070.3,2255.8 2063.3,2264.1 2060.4,2268.1C2057.5,2272.0 2055.8,2274.6 2054.9,2277.2C2054.0,2279.8 2054.9,2282.6 2054.9,2283.7 M2056.7,2277.2C2059.2,2276.0 2066.8,2273.0 2071.4,2269.9C2076.0,2266.8 2079.7,2263.2 2084.3,2258.9C2088.9,2254.6 2096.5,2246.6 2099.0,2244.2 M2099.0,2244.2C2096.8,2247.2 2088.9,2256.4 2086.1,2262.5C2083.3,2268.7 2082.9,2276.5 2082.4,2280.9C2082.0,2285.4 2081.2,2288.3 2083.3,2289.2C2085.5,2290.1 2093.3,2286.9 2095.3,2286.4 M2106.3,2269.9C2107.2,2268.4 2109.1,2262.5 2111.8,2260.7C2114.6,2258.9 2120.5,2258.3 2122.8,2258.9C2125.1,2259.5 2126.8,2261.0 2125.6,2264.4C2124.4,2267.8 2118.2,2274.8 2115.5,2279.1C2112.7,2283.4 2110.0,2287.6 2109.1,2290.1C2108.1,2292.5 2107.1,2293.8 2110.0,2293.8C2112.9,2293.8 2122.8,2291.9 2126.5,2290.1C2130.2,2288.3 2131.1,2284.0 2132.0,2282.8 M2097.1,2276.3C2100.2,2276.0 2109.2,2274.5 2115.5,2274.5C2121.8,2274.5 2131.6,2276.0 2134.8,2276.3"/><!--R_80mhz2-->
<path d="M1738.6,2356.1C1737.5,2355.9 1735.0,2352.6 1732.3,2354.9C1729.7,2357.2 1725.5,2363.2 1722.4,2369.8C1719.3,2376.4 1715.6,2386.8 1713.7,2394.7C1711.8,2402.6 1710.6,2411.3 1711.2,2417.1C1711.8,2422.9 1714.5,2427.2 1717.4,2429.5C1720.3,2431.8 1726.7,2430.6 1728.6,2430.8 M1767.2,2379.8C1767.4,2378.1 1766.4,2372.3 1768.4,2369.8C1770.5,2367.3 1776.1,2364.4 1779.6,2364.8C1783.1,2365.2 1788.3,2368.6 1789.6,2372.3C1790.8,2376.0 1789.6,2382.3 1787.1,2387.2C1784.6,2392.2 1778.0,2397.6 1774.6,2402.2C1771.3,2406.7 1767.6,2411.9 1767.2,2414.6C1766.8,2417.3 1768.4,2418.1 1772.2,2418.3C1775.9,2418.5 1784.0,2417.5 1789.6,2415.8C1795.2,2414.2 1803.1,2409.6 1805.7,2408.4 M1834.4,2337.0C1833.1,2340.0 1829.5,2348.6 1826.9,2354.9C1824.3,2361.2 1820.3,2371.5 1818.9,2374.8 M1864.2,2341.2C1863.4,2341.0 1861.5,2338.1 1859.2,2340.0C1857.0,2341.8 1852.4,2347.8 1850.5,2352.4C1848.7,2357.0 1847.6,2363.8 1848.0,2367.3C1848.5,2370.8 1850.3,2373.1 1853.0,2373.5C1855.7,2374.0 1861.7,2372.5 1864.2,2369.8C1866.7,2367.1 1868.4,2360.5 1868.0,2357.4C1867.5,2354.3 1863.8,2350.7 1861.7,2351.1C1859.7,2351.6 1857.0,2355.9 1855.5,2359.9C1854.1,2363.8 1853.4,2372.3 1853.0,2374.8 M1894.1,2354.9C1895.5,2356.5 1900.7,2359.4 1902.8,2364.8C1904.9,2370.2 1906.7,2380.2 1906.5,2387.2C1906.3,2394.3 1904.4,2401.9 1901.5,2407.1C1898.6,2412.3 1891.2,2416.5 1889.1,2418.3 M1997.3,2338.7C1996.1,2340.6 1992.6,2343.9 1989.9,2349.9C1987.2,2355.9 1983.0,2366.5 1981.2,2374.8C1979.3,2383.1 1978.1,2393.9 1978.7,2399.7C1979.3,2405.5 1980.7,2408.2 1984.9,2409.6C1989.0,2411.1 2000.4,2408.6 2003.6,2408.4 M2063.3,2363.6C2061.6,2362.8 2057.5,2359.0 2053.3,2358.6C2049.2,2358.2 2041.1,2359.2 2038.4,2361.1C2035.7,2363.0 2034.7,2366.7 2037.1,2369.8C2039.6,2372.9 2049.6,2376.4 2053.3,2379.8C2057.1,2383.1 2059.5,2387.0 2059.5,2389.7C2059.5,2392.4 2057.1,2394.7 2053.3,2395.9C2049.6,2397.2 2040.3,2398.2 2037.1,2397.2C2034.0,2396.1 2033.2,2393.4 2034.7,2389.7C2036.1,2386.0 2041.1,2379.1 2045.9,2374.8C2050.6,2370.4 2060.4,2365.5 2063.3,2363.6 M2086.9,2337.5C2088.4,2340.4 2094.0,2347.8 2095.6,2354.9C2097.3,2361.9 2097.3,2373.1 2096.9,2379.8C2096.5,2386.4 2094.6,2390.8 2093.1,2394.7C2091.7,2398.6 2089.0,2401.9 2088.2,2403.4"/><!--R_2168-->
<path d="M1457.5,2477.8C1457.3,2474.4 1457.5,2462.6 1456.4,2457.5C1455.3,2452.4 1453.0,2447.0 1450.8,2447.4C1448.5,2447.8 1445.0,2452.4 1442.9,2459.8C1440.8,2467.1 1439.5,2480.4 1438.4,2491.3C1437.3,2502.2 1436.9,2514.9 1436.2,2525.0C1435.4,2535.2 1435.0,2545.1 1433.9,2552.1C1432.8,2559.0 1431.1,2565.2 1429.4,2566.7C1427.7,2568.2 1426.0,2565.6 1423.8,2561.1C1421.5,2556.6 1417.2,2543.2 1415.9,2539.7 M1404.6,2501.4C1407.8,2500.5 1416.3,2497.0 1423.8,2495.8C1431.3,2494.5 1445.3,2494.3 1449.7,2494.0 M1466.5,2521.7L1467.7,2547.6 M1468.8,2534.1C1470.1,2532.0 1474.2,2524.5 1476.7,2521.7C1479.1,2518.9 1481.6,2516.8 1483.4,2517.2C1485.3,2517.5 1486.8,2519.2 1487.9,2523.9C1489.1,2528.6 1489.8,2541.7 1490.2,2545.3 M1491.3,2534.1C1492.6,2532.0 1496.6,2524.6 1499.2,2521.7C1501.8,2518.7 1504.8,2515.9 1507.1,2516.5C1509.3,2517.1 1511.5,2520.4 1512.7,2525.0C1513.9,2529.7 1514.0,2541.0 1514.3,2544.2 M1520.1,2500.3L1518.3,2509.7 M1518.3,2518.3L1519.4,2540.8 M1539.7,2516.0L1540.8,2545.3 M1543.1,2531.8C1545.3,2529.3 1552.5,2519.3 1556.6,2516.5C1560.7,2513.7 1565.2,2512.7 1567.8,2514.9C1570.5,2517.1 1571.4,2525.2 1572.4,2529.6C1573.3,2533.9 1572.5,2539.1 1573.5,2540.8C1574.4,2542.5 1577.2,2539.9 1578.0,2539.7 M1607.0,2506.6L1634.9,2504.8 M1609.5,2521.0C1608.9,2521.1 1605.2,2521.7 1606.1,2521.7C1607.1,2521.6 1609.7,2520.0 1615.1,2520.5C1620.6,2521.1 1634.8,2524.3 1638.8,2525.0"/><!--H4_fmin-->
<path d="M1703.3,2483.3C1702.6,2486.7 1700.5,2496.9 1699.5,2504.1C1698.5,2511.4 1697.6,2523.1 1697.2,2526.9 M1762.0,2484.2C1759.2,2484.1 1750.3,2483.3 1745.0,2483.3C1739.6,2483.3 1733.0,2481.4 1729.8,2484.2C1726.7,2487.1 1727.4,2495.6 1726.0,2500.3C1724.6,2505.1 1719.7,2511.2 1721.3,2512.7C1722.9,2514.1 1731.4,2508.7 1735.5,2508.9C1739.6,2509.0 1743.9,2511.2 1745.9,2513.6C1748.0,2516.0 1748.6,2519.9 1747.8,2523.1C1747.0,2526.2 1743.9,2530.5 1741.2,2532.6C1738.5,2534.6 1733.4,2535.7 1731.7,2535.4C1730.0,2535.1 1729.7,2534.0 1730.8,2530.7C1731.9,2527.3 1737.1,2518.0 1738.3,2515.5 M1771.5,2495.6C1772.8,2494.5 1775.9,2490.2 1779.1,2489.0C1782.3,2487.7 1787.6,2486.7 1790.5,2488.0C1793.3,2489.3 1795.7,2492.9 1796.2,2496.5C1796.6,2500.2 1796.2,2504.8 1793.3,2509.8C1790.5,2514.9 1783.0,2522.4 1779.1,2526.9C1775.2,2531.3 1769.9,2534.8 1769.6,2536.4C1769.3,2537.9 1772.8,2537.0 1777.2,2536.4C1781.6,2535.7 1792.7,2533.3 1796.2,2532.6C1799.6,2531.8 1797.7,2531.8 1798.1,2531.6 M1812.3,2534.5L1815.1,2539.2 M1894.7,2485.2C1892.2,2485.5 1884.9,2485.8 1879.6,2487.1C1874.2,2488.3 1866.3,2488.5 1862.5,2492.7C1858.7,2497.0 1855.9,2510.1 1856.8,2512.7C1857.8,2515.2 1865.2,2507.4 1868.2,2507.9C1871.2,2508.4 1873.7,2512.3 1874.8,2515.5C1875.9,2518.7 1876.3,2523.6 1874.8,2526.9C1873.4,2530.2 1869.8,2533.5 1866.3,2535.4C1862.8,2537.3 1854.9,2538.7 1854.0,2538.2C1853.0,2537.8 1859.5,2533.5 1860.6,2532.6 M1934.5,2499.4C1933.0,2498.4 1928.9,2495.1 1925.1,2493.7C1921.3,2492.3 1915.4,2490.1 1911.8,2490.9C1908.2,2491.6 1903.3,2495.6 1903.3,2498.4C1903.3,2501.3 1908.8,2504.4 1911.8,2507.9C1914.8,2511.4 1919.5,2515.2 1921.3,2519.3C1923.0,2523.4 1923.5,2529.6 1922.2,2532.6C1921.0,2535.6 1917.3,2536.8 1913.7,2537.3C1910.1,2537.8 1903.1,2537.5 1900.4,2535.4C1897.7,2533.3 1896.3,2529.6 1897.6,2525.0C1898.8,2520.4 1901.8,2512.2 1908.0,2507.9C1914.2,2503.6 1930.1,2500.8 1934.5,2499.4 M1942.1,2493.7C1945.0,2493.4 1953.8,2492.0 1959.2,2491.8C1964.6,2491.6 1972.8,2489.4 1974.4,2492.7C1975.9,2496.1 1970.3,2505.7 1968.7,2511.7C1967.1,2517.7 1965.8,2524.2 1964.9,2528.8C1963.9,2533.3 1963.0,2538.1 1963.0,2539.2C1963.0,2540.3 1964.6,2536.0 1964.9,2535.4 M1945.0,2515.5C1949.2,2515.2 1963.0,2513.6 1970.6,2513.6C1978.2,2513.6 1987.2,2515.2 1990.5,2515.5"/><!--H4_num-->
<path d="M2034.1,2490.3C2033.7,2490.4 2032.6,2488.5 2032.0,2490.8C2031.4,2493.0 2031.1,2499.1 2030.3,2504.0C2029.6,2509.0 2028.5,2515.3 2027.4,2520.6C2026.4,2525.9 2024.7,2533.4 2024.1,2536.0 M2022.0,2510.2C2022.8,2510.9 2023.8,2513.2 2026.6,2514.0C2029.4,2514.7 2034.9,2515.4 2039.0,2514.8C2043.2,2514.3 2047.7,2512.7 2051.5,2510.7C2055.2,2508.6 2058.5,2506.0 2061.4,2502.4C2064.3,2498.8 2067.8,2492.0 2068.9,2489.1C2070.0,2486.2 2068.9,2484.5 2068.1,2485.0C2067.2,2485.4 2065.4,2487.7 2063.9,2491.6C2062.4,2495.5 2059.9,2502.6 2058.9,2508.2C2058.0,2513.7 2058.0,2520.1 2058.1,2524.8C2058.2,2529.5 2058.5,2534.2 2059.8,2536.4C2061.0,2538.6 2063.4,2538.1 2065.6,2538.0C2067.8,2538.0 2071.8,2536.3 2073.0,2536.0 M2082.2,2515.6C2083.3,2515.1 2085.6,2513.1 2088.8,2512.3C2092.0,2511.6 2097.5,2511.1 2101.2,2511.1C2105.0,2511.0 2110.5,2510.2 2111.2,2511.9C2111.9,2513.6 2107.2,2518.2 2105.4,2521.4C2103.6,2524.7 2101.1,2528.4 2100.4,2531.4C2099.7,2534.4 2099.7,2538.0 2101.2,2539.7C2102.8,2541.4 2106.6,2541.4 2109.5,2541.4C2112.4,2541.4 2117.1,2540.0 2118.7,2539.7 M2085.1,2537.2C2084.6,2536.8 2082.4,2536.0 2082.2,2534.7C2081.9,2533.5 2082.0,2531.1 2083.8,2529.7C2085.6,2528.4 2088.7,2527.5 2092.9,2526.4C2097.2,2525.3 2103.7,2524.2 2109.5,2523.1C2115.3,2522.0 2124.7,2520.3 2127.8,2519.8"/><!--H4_hz-->
<path d="M183.0,1695.8C183.5,1696.2 185.4,1696.9 186.2,1698.5C186.9,1700.0 187.3,1702.5 187.5,1704.9C187.8,1707.2 187.7,1711.5 187.8,1712.8 M187.8,1704.9C188.1,1703.4 189.2,1698.6 189.9,1696.3C190.6,1694.0 191.4,1691.2 192.1,1691.0C192.7,1690.8 193.5,1692.9 193.9,1695.3C194.4,1697.6 194.5,1702.1 194.7,1704.9C194.9,1707.6 194.5,1712.1 195.0,1711.8C195.4,1711.4 196.5,1705.7 197.4,1702.7C198.2,1699.8 199.2,1696.3 200.1,1694.2C200.9,1692.1 201.9,1689.9 202.7,1689.9C203.5,1689.9 204.1,1691.9 204.9,1694.2C205.6,1696.5 206.4,1701.6 207.0,1703.8C207.6,1706.0 207.8,1707.3 208.6,1707.5C209.4,1707.7 210.7,1706.5 211.8,1704.9C212.8,1703.2 214.1,1699.9 215.0,1697.4C215.9,1694.9 216.4,1690.3 217.1,1689.9C217.8,1689.6 218.6,1693.3 219.2,1695.3C219.9,1697.2 220.4,1700.1 220.8,1701.7C221.3,1703.3 221.6,1704.9 221.9,1704.9C222.2,1704.9 222.4,1702.2 222.4,1701.7 M220.0,1679.8L221.6,1688.3 M230.7,1686.2C231.0,1687.0 232.0,1687.8 232.6,1691.0C233.1,1694.2 233.5,1704.3 234.2,1705.4C234.9,1706.4 235.8,1700.4 236.8,1697.4C237.9,1694.4 239.4,1689.7 240.6,1687.3C241.7,1684.9 242.8,1683.0 243.8,1683.0C244.7,1683.0 245.5,1684.6 246.4,1687.3C247.4,1689.9 248.6,1695.9 249.6,1699.0C250.6,1702.1 251.2,1705.1 252.3,1705.9C253.4,1706.7 254.9,1704.8 256.0,1703.8C257.2,1702.8 258.7,1700.7 259.2,1700.1"/><!--L_min1-->
<path d="M177.8,1859.3C178.3,1859.7 180.2,1860.4 181.0,1862.0C181.7,1863.5 182.1,1866.0 182.3,1868.4C182.6,1870.7 182.5,1875.0 182.6,1876.3 M182.6,1868.4C182.9,1866.9 184.0,1862.1 184.7,1859.8C185.4,1857.5 186.2,1854.7 186.9,1854.5C187.5,1854.3 188.3,1856.4 188.7,1858.8C189.2,1861.1 189.3,1865.6 189.5,1868.4C189.7,1871.1 189.3,1875.6 189.8,1875.3C190.2,1874.9 191.3,1869.2 192.2,1866.2C193.0,1863.3 194.0,1859.8 194.9,1857.7C195.7,1855.6 196.7,1853.4 197.5,1853.4C198.3,1853.4 198.9,1855.4 199.7,1857.7C200.4,1860.0 201.2,1865.1 201.8,1867.3C202.4,1869.5 202.6,1870.8 203.4,1871.0C204.2,1871.2 205.5,1870.0 206.6,1868.4C207.6,1866.7 208.9,1863.4 209.8,1860.9C210.7,1858.4 211.2,1853.8 211.9,1853.4C212.6,1853.1 213.4,1856.8 214.0,1858.8C214.7,1860.7 215.2,1863.6 215.6,1865.2C216.1,1866.8 216.4,1868.4 216.7,1868.4C217.0,1868.4 217.2,1865.7 217.2,1865.2 M214.8,1843.3L216.4,1851.8 M225.5,1849.7C225.8,1850.5 226.8,1851.3 227.4,1854.5C227.9,1857.7 228.3,1867.8 229.0,1868.9C229.7,1869.9 230.6,1863.9 231.6,1860.9C232.7,1857.9 234.2,1853.2 235.4,1850.8C236.5,1848.4 237.6,1846.5 238.6,1846.5C239.5,1846.5 240.3,1848.1 241.2,1850.8C242.2,1853.4 243.4,1859.4 244.4,1862.5C245.4,1865.6 246.0,1868.6 247.1,1869.4C248.2,1870.2 249.7,1868.3 250.8,1867.3C252.0,1866.3 253.5,1864.2 254.0,1863.6"/><!--L_min2-->
<path d="M159.5,2005.9C160.0,2006.3 161.9,2007.0 162.7,2008.6C163.4,2010.1 163.8,2012.6 164.0,2015.0C164.3,2017.3 164.2,2021.6 164.3,2022.9 M164.3,2015.0C164.6,2013.5 165.7,2008.7 166.4,2006.4C167.1,2004.1 167.9,2001.3 168.6,2001.1C169.2,2000.9 170.0,2003.0 170.4,2005.4C170.9,2007.7 171.0,2012.2 171.2,2015.0C171.4,2017.7 171.0,2022.2 171.5,2021.9C171.9,2021.5 173.0,2015.8 173.9,2012.8C174.7,2009.9 175.7,2006.4 176.6,2004.3C177.4,2002.2 178.4,2000.0 179.2,2000.0C180.0,2000.0 180.6,2002.0 181.4,2004.3C182.1,2006.6 182.9,2011.7 183.5,2013.9C184.1,2016.1 184.3,2017.4 185.1,2017.6C185.9,2017.8 187.2,2016.6 188.3,2015.0C189.3,2013.3 190.6,2010.0 191.5,2007.5C192.4,2005.0 192.9,2000.4 193.6,2000.0C194.3,1999.7 195.1,2003.4 195.7,2005.4C196.4,2007.3 196.9,2010.2 197.3,2011.8C197.8,2013.4 198.1,2015.0 198.4,2015.0C198.7,2015.0 198.9,2012.3 198.9,2011.8 M196.5,1989.9L198.1,1998.4 M207.2,1996.3C207.5,1997.1 208.5,1997.9 209.1,2001.1C209.6,2004.3 210.0,2014.4 210.7,2015.5C211.4,2016.5 212.3,2010.5 213.3,2007.5C214.4,2004.5 215.9,1999.8 217.1,1997.4C218.2,1995.0 219.3,1993.1 220.3,1993.1C221.2,1993.1 222.0,1994.7 222.9,1997.4C223.9,2000.0 225.1,2006.0 226.1,2009.1C227.1,2012.2 227.7,2015.2 228.8,2016.0C229.9,2016.8 231.4,2014.9 232.5,2013.9C233.7,2012.9 235.2,2010.8 235.7,2010.2"/><!--H1_min-->
<path d="M300.3,1846.2L314.9,1842.1 M297.2,1860.9C298.0,1860.3 297.4,1858.2 301.8,1857.8C306.2,1857.4 319.8,1858.4 323.4,1858.5"/><!--L_min2_eq-->
<path d="M281.4,1993.5L302.6,1991.0 M279.0,2008.4C279.8,2008.0 279.7,2006.2 283.9,2005.9C288.2,2005.6 300.9,2006.6 304.3,2006.7"/><!--H1_eq-->
<path d="M356.8,1970.3C356.5,1974.0 355.5,1985.6 355.2,1992.7C354.8,1999.7 354.7,2009.1 354.7,2012.4 M372.8,2000.1L376.5,1998.5 M403.2,1974.0C402.6,1975.7 401.0,1980.3 400.0,1984.1C398.9,1987.9 397.5,1993.4 396.8,1996.9C396.1,2000.5 395.2,2004.1 395.7,2005.4C396.2,2006.8 399.3,2005.0 400.0,2004.9 M421.8,1989.5C421.9,1988.0 421.2,1982.3 422.4,1980.9C423.5,1979.5 427.3,1979.3 428.8,1980.9C430.3,1982.5 431.4,1987.1 431.4,1990.5C431.4,1993.9 430.5,1998.3 428.8,2001.2C427.1,2004.0 423.5,2007.0 421.3,2007.6C419.1,2008.1 416.5,2006.5 415.4,2004.4C414.4,2002.2 414.3,1998.3 414.9,1994.8C415.5,1991.2 417.6,1985.7 419.2,1983.1C420.8,1980.4 422.7,1979.0 424.5,1978.8C426.3,1978.6 428.9,1981.5 429.8,1982.0"/><!--H1_110-->
<path d="M434.2,1963.2C435.2,1962.9 436.6,1962.2 439.9,1961.8C443.2,1961.3 451.8,1960.6 454.1,1960.3 M468.3,1948.5C468.0,1950.0 467.0,1954.3 466.4,1957.5C465.9,1960.6 464.2,1966.9 465.0,1967.4C465.8,1968.0 468.5,1963.6 471.2,1960.8C473.9,1958.0 479.8,1950.8 481.1,1950.4C482.5,1950.0 480.0,1955.1 479.2,1958.4C478.5,1961.8 477.4,1967.1 476.9,1970.3C476.3,1973.4 475.0,1976.3 475.9,1977.4C476.9,1978.5 481.5,1977.0 482.6,1976.9"/><!--H1_4-->
<path d="M1534.9,1383.5C1535.2,1386.0 1536.8,1393.1 1537.0,1398.4C1537.3,1403.8 1535.1,1415.5 1536.3,1415.5C1537.5,1415.5 1541.4,1403.7 1544.1,1398.4C1546.9,1393.2 1550.0,1387.5 1552.7,1384.2C1555.3,1380.9 1557.6,1378.5 1559.8,1378.5C1561.9,1378.5 1564.3,1380.4 1565.5,1384.2C1566.6,1388.0 1566.5,1396.3 1566.9,1401.3C1567.2,1406.3 1566.9,1411.7 1567.6,1414.1C1568.3,1416.4 1570.5,1415.3 1571.1,1415.5 M1618.8,1392.7C1619.1,1394.9 1620.3,1400.9 1620.9,1405.5C1621.5,1410.2 1620.7,1420.7 1622.3,1420.5C1624.0,1420.2 1628.0,1409.5 1630.9,1404.1C1633.7,1398.8 1638.2,1388.5 1639.4,1388.5C1640.6,1388.5 1638.6,1399.0 1638.0,1404.1C1637.4,1409.2 1634.4,1419.5 1635.8,1419.1C1637.3,1418.6 1642.6,1407.1 1646.5,1401.3C1650.4,1395.5 1656.6,1387.5 1659.3,1384.2C1662.0,1380.9 1662.4,1379.0 1662.9,1381.4C1663.3,1383.7 1662.6,1392.5 1662.1,1398.4C1661.7,1404.4 1659.8,1413.4 1660.0,1416.9C1660.2,1420.5 1661.5,1419.6 1663.6,1419.8C1665.6,1419.9 1668.8,1420.0 1672.1,1417.6C1675.4,1415.3 1680.2,1410.9 1683.5,1405.5C1686.8,1400.2 1691.1,1389.7 1692.0,1385.6C1692.9,1381.6 1691.1,1381.1 1689.2,1381.4C1687.3,1381.6 1683.5,1384.0 1680.6,1387.1C1677.8,1390.1 1674.0,1395.6 1672.1,1399.9C1670.2,1404.1 1669.2,1410.0 1669.2,1412.7C1669.2,1415.3 1670.2,1416.0 1672.1,1415.5C1674.0,1415.0 1677.3,1413.8 1680.6,1409.8C1683.9,1405.8 1689.6,1395.6 1692.0,1391.3C1694.4,1387.1 1694.1,1382.3 1694.8,1384.2C1695.6,1386.1 1695.7,1397.0 1696.3,1402.7C1696.9,1408.4 1698.0,1415.7 1698.4,1418.3 M1700.5,1420.5C1703.1,1418.5 1711.4,1413.2 1716.2,1408.4C1720.9,1403.5 1724.8,1396.1 1729.0,1391.3C1733.1,1386.6 1739.0,1381.8 1741.1,1380.0 M1706.2,1403.4C1706.0,1402.7 1703.8,1400.5 1704.8,1399.1C1705.7,1397.8 1709.3,1395.7 1711.9,1395.6C1714.5,1395.5 1718.3,1396.1 1720.4,1398.4C1722.6,1400.8 1723.3,1406.5 1724.7,1409.8C1726.1,1413.1 1727.3,1416.8 1729.0,1418.3C1730.6,1419.9 1733.5,1420.0 1734.7,1419.1C1735.8,1418.1 1735.8,1413.7 1736.1,1412.7"/><!--R_nmax-->
<path d="M171.4,1392.7C171.7,1395.1 173.3,1401.3 173.5,1407.0C173.7,1412.7 171.5,1426.6 172.8,1426.9C174.1,1427.1 178.2,1414.1 181.3,1408.4C184.4,1402.7 188.4,1396.1 191.3,1392.7C194.1,1389.4 196.6,1387.5 198.4,1388.5C200.2,1389.4 201.1,1393.9 201.9,1398.4C202.8,1402.9 203.0,1410.9 203.4,1415.5C203.7,1420.1 203.5,1424.5 204.1,1426.2C204.7,1427.8 206.4,1425.6 206.9,1425.5 M254.6,1403.4C254.9,1405.4 256.1,1410.9 256.7,1415.5C257.3,1420.1 256.7,1431.1 258.1,1431.1C259.5,1431.1 262.6,1420.7 265.2,1415.5C267.8,1410.3 272.1,1402.7 273.7,1399.9C275.4,1397.0 275.2,1395.8 275.2,1398.4C275.2,1401.0 274.2,1410.3 273.7,1415.5C273.3,1420.7 270.9,1430.2 272.3,1429.7C273.7,1429.2 278.7,1418.3 282.3,1412.7C285.8,1407.0 291.0,1398.9 293.7,1395.6C296.3,1392.3 297.4,1390.4 297.9,1392.7C298.4,1395.1 297.0,1404.1 296.5,1409.8C296.0,1415.5 294.6,1423.3 295.1,1426.9C295.6,1430.4 297.2,1430.9 299.3,1431.1C301.5,1431.4 304.6,1431.4 307.9,1428.3C311.2,1425.2 315.7,1418.3 319.2,1412.7C322.8,1407.0 328.0,1397.7 329.2,1394.2C330.4,1390.6 328.5,1390.6 326.4,1391.3C324.2,1392.0 319.7,1394.6 316.4,1398.4C313.1,1402.2 308.6,1409.6 306.5,1414.1C304.3,1418.6 303.4,1423.3 303.6,1425.5C303.8,1427.6 305.3,1428.3 307.9,1426.9C310.5,1425.5 315.5,1421.7 319.2,1416.9C323.0,1412.2 328.5,1399.4 330.6,1398.4C332.8,1397.5 331.6,1406.3 332.0,1411.2C332.5,1416.2 333.2,1425.5 333.5,1428.3 M336.3,1431.1C338.7,1429.0 345.6,1423.3 350.5,1418.3C355.5,1413.4 361.8,1405.9 366.2,1401.3C370.6,1396.7 375.1,1392.4 376.8,1390.6 M342.0,1412.7C341.8,1412.1 339.4,1410.5 340.6,1409.1C341.8,1407.7 346.3,1404.5 349.1,1404.1C352.0,1403.8 355.7,1404.6 357.6,1407.0C359.5,1409.3 359.3,1414.8 360.5,1418.3C361.7,1421.9 363.1,1426.4 364.7,1428.3C366.4,1430.2 369.3,1430.5 370.4,1429.7C371.6,1428.9 371.6,1424.4 371.9,1423.3"/><!--L_nmax-->
</g>
</svg>
</body></html>
